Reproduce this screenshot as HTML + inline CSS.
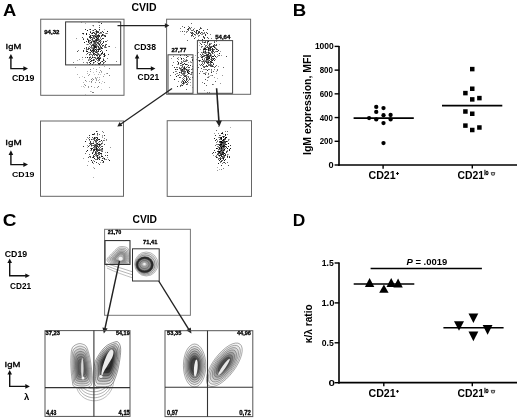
<!DOCTYPE html>
<html><head><meta charset="utf-8"><style>
html,body{margin:0;padding:0;background:#fff;width:520px;height:420px;overflow:hidden}
svg{display:block;filter:grayscale(1)}
</style></head><body>
<svg width="520" height="420" viewBox="0 0 520 420"><defs><filter id="bl" x="-10%" y="-10%" width="120%" height="120%"><feGaussianBlur stdDeviation="0.6"/></filter></defs><text x="3.00" y="16.00" font-family="Liberation Sans, sans-serif" font-weight="bold" font-size="16.32" textLength="13.29" lengthAdjust="spacingAndGlyphs" fill="#000" >A</text>
<text x="131.50" y="10.80" font-family="Liberation Sans, sans-serif" font-weight="bold" font-size="10.09" textLength="25.06" lengthAdjust="spacingAndGlyphs" fill="#000" >CVID</text>
<path d="M99,22h1.0v1.0h-1.0zM95,31h1.0v1.0h-1.0zM82,33h1.0v1.0h-1.0zM101,33h1.0v1.0h-1.0zM105,33h1.0v1.0h-1.0zM107,33h1.0v1.0h-1.0zM92,37h1.0v1.0h-1.0zM94,37h1.0v1.0h-1.0zM95,37h1.0v1.0h-1.0zM97,37h1.0v1.0h-1.0zM100,37h1.0v1.0h-1.0zM88,39h1.0v1.0h-1.0zM91,39h1.0v1.0h-1.0zM99,40h1.0v1.0h-1.0zM89,41h1.0v1.0h-1.0zM92,41h1.0v1.0h-1.0zM98,41h1.0v1.0h-1.0zM100,41h1.0v1.0h-1.0zM93,42h1.0v1.0h-1.0zM91,43h1.0v1.0h-1.0zM93,43h1.0v1.0h-1.0zM99,43h1.0v1.0h-1.0zM97,45h1.0v1.0h-1.0zM97,46h1.0v1.0h-1.0zM88,47h1.0v1.0h-1.0zM92,47h1.0v1.0h-1.0zM93,47h1.0v1.0h-1.0zM99,47h1.0v1.0h-1.0zM91,48h1.0v1.0h-1.0zM98,48h1.0v1.0h-1.0zM93,52h1.0v1.0h-1.0zM99,54h1.0v1.0h-1.0zM100,54h1.0v1.0h-1.0zM89,55h1.0v1.0h-1.0zM90,56h1.0v1.0h-1.0zM92,56h1.0v1.0h-1.0zM97,56h1.0v1.0h-1.0zM93,57h1.0v1.0h-1.0zM99,57h1.0v1.0h-1.0zM96,58h1.0v1.0h-1.0zM103,58h1.0v1.0h-1.0zM79,59h1.0v1.0h-1.0zM96,59h1.0v1.0h-1.0zM94,60h1.0v1.0h-1.0zM104,60h1.0v1.0h-1.0zM98,61h1.0v1.0h-1.0zM86,62h1.0v1.0h-1.0zM94,62h1.0v1.0h-1.0zM97,62h1.0v1.0h-1.0zM87,63h1.0v1.0h-1.0zM98,64h1.0v1.0h-1.0z" fill="#000" fill-opacity="0.4"/>
<path d="M101,23h1.0v1.0h-1.0zM99,27h1.0v1.0h-1.0zM97,32h1.0v1.0h-1.0zM100,32h1.0v1.0h-1.0zM96,33h1.0v1.0h-1.0zM94,35h1.0v1.0h-1.0zM101,35h1.0v1.0h-1.0zM102,35h1.0v1.0h-1.0zM96,36h1.0v1.0h-1.0zM98,36h1.0v1.0h-1.0zM82,37h1.0v1.0h-1.0zM90,38h1.0v1.0h-1.0zM94,38h1.0v1.0h-1.0zM103,38h1.0v1.0h-1.0zM83,39h1.0v1.0h-1.0zM97,39h1.0v1.0h-1.0zM90,40h1.0v1.0h-1.0zM91,41h1.0v1.0h-1.0zM96,41h1.0v1.0h-1.0zM105,41h1.0v1.0h-1.0zM90,42h1.0v1.0h-1.0zM94,42h1.0v1.0h-1.0zM95,42h1.0v1.0h-1.0zM89,43h1.0v1.0h-1.0zM94,43h1.0v1.0h-1.0zM95,43h1.0v1.0h-1.0zM96,44h1.0v1.0h-1.0zM106,44h1.0v1.0h-1.0zM91,45h1.0v1.0h-1.0zM92,45h1.0v1.0h-1.0zM95,45h1.0v1.0h-1.0zM99,45h1.0v1.0h-1.0zM102,45h1.0v1.0h-1.0zM91,46h1.0v1.0h-1.0zM96,46h1.0v1.0h-1.0zM109,46h1.0v1.0h-1.0zM98,47h1.0v1.0h-1.0zM105,47h1.0v1.0h-1.0zM84,48h1.0v1.0h-1.0zM86,48h1.0v1.0h-1.0zM88,48h1.0v1.0h-1.0zM94,48h1.0v1.0h-1.0zM88,49h1.0v1.0h-1.0zM90,49h1.0v1.0h-1.0zM97,49h1.0v1.0h-1.0zM98,50h1.0v1.0h-1.0zM77,51h1.0v1.0h-1.0zM95,52h1.0v1.0h-1.0zM104,53h1.0v1.0h-1.0zM103,54h1.0v1.0h-1.0zM108,54h1.0v1.0h-1.0zM92,55h1.0v1.0h-1.0zM100,55h1.0v1.0h-1.0zM90,57h1.0v1.0h-1.0zM91,58h1.0v1.0h-1.0zM98,58h1.0v1.0h-1.0zM93,59h1.0v1.0h-1.0zM103,63h1.0v1.0h-1.0zM92,64h1.0v1.0h-1.0zM102,64h1.0v1.0h-1.0z" fill="#000" fill-opacity="0.7"/>
<path d="M93,25h1.0v1.0h-1.0zM99,25h1.0v1.0h-1.0zM90,31h1.0v1.0h-1.0zM101,32h1.0v1.0h-1.0zM91,33h1.0v1.0h-1.0zM99,33h1.0v1.0h-1.0zM106,33h1.0v1.0h-1.0zM89,34h1.0v1.0h-1.0zM96,34h1.0v1.0h-1.0zM98,34h1.0v1.0h-1.0zM93,35h1.0v1.0h-1.0zM105,35h1.0v1.0h-1.0zM89,36h1.0v1.0h-1.0zM101,36h1.0v1.0h-1.0zM93,37h1.0v1.0h-1.0zM92,38h1.0v1.0h-1.0zM98,38h1.0v1.0h-1.0zM95,39h1.0v1.0h-1.0zM101,39h1.0v1.0h-1.0zM89,40h1.0v1.0h-1.0zM92,40h1.0v1.0h-1.0zM95,41h1.0v1.0h-1.0zM106,41h1.0v1.0h-1.0zM98,42h1.0v1.0h-1.0zM97,43h1.0v1.0h-1.0zM87,44h1.0v1.0h-1.0zM92,44h1.0v1.0h-1.0zM95,44h1.0v1.0h-1.0zM93,46h1.0v1.0h-1.0zM102,46h1.0v1.0h-1.0zM90,47h1.0v1.0h-1.0zM100,47h1.0v1.0h-1.0zM86,49h1.0v1.0h-1.0zM87,49h1.0v1.0h-1.0zM94,51h1.0v1.0h-1.0zM95,51h1.0v1.0h-1.0zM96,51h1.0v1.0h-1.0zM97,51h1.0v1.0h-1.0zM92,52h1.0v1.0h-1.0zM97,53h1.0v1.0h-1.0zM91,54h1.0v1.0h-1.0zM101,54h1.0v1.0h-1.0zM94,55h1.0v1.0h-1.0zM85,57h1.0v1.0h-1.0zM95,57h1.0v1.0h-1.0zM97,57h1.0v1.0h-1.0zM100,57h1.0v1.0h-1.0zM95,58h1.0v1.0h-1.0zM88,60h1.0v1.0h-1.0zM92,60h1.0v1.0h-1.0zM98,60h1.0v1.0h-1.0zM103,62h1.0v1.0h-1.0z" fill="#000" fill-opacity="0.6"/>
<path d="M85,29h1.0v1.0h-1.0zM99,29h1.0v1.0h-1.0zM93,30h1.0v1.0h-1.0zM96,31h1.0v1.0h-1.0zM97,31h1.0v1.0h-1.0zM102,31h1.0v1.0h-1.0zM96,32h1.0v1.0h-1.0zM98,32h1.0v1.0h-1.0zM103,32h1.0v1.0h-1.0zM94,33h1.0v1.0h-1.0zM95,34h1.0v1.0h-1.0zM90,35h1.0v1.0h-1.0zM92,35h1.0v1.0h-1.0zM97,35h1.0v1.0h-1.0zM99,35h1.0v1.0h-1.0zM104,35h1.0v1.0h-1.0zM93,36h1.0v1.0h-1.0zM97,36h1.0v1.0h-1.0zM89,37h1.0v1.0h-1.0zM90,37h1.0v1.0h-1.0zM98,37h1.0v1.0h-1.0zM102,38h1.0v1.0h-1.0zM92,39h1.0v1.0h-1.0zM98,39h1.0v1.0h-1.0zM95,40h1.0v1.0h-1.0zM97,40h1.0v1.0h-1.0zM100,40h1.0v1.0h-1.0zM86,41h1.0v1.0h-1.0zM103,41h1.0v1.0h-1.0zM88,42h1.0v1.0h-1.0zM97,42h1.0v1.0h-1.0zM100,42h1.0v1.0h-1.0zM103,42h1.0v1.0h-1.0zM98,43h1.0v1.0h-1.0zM102,43h1.0v1.0h-1.0zM93,44h1.0v1.0h-1.0zM101,44h1.0v1.0h-1.0zM93,45h1.0v1.0h-1.0zM94,45h1.0v1.0h-1.0zM103,45h1.0v1.0h-1.0zM105,45h1.0v1.0h-1.0zM98,46h1.0v1.0h-1.0zM100,46h1.0v1.0h-1.0zM86,47h1.0v1.0h-1.0zM96,47h1.0v1.0h-1.0zM89,48h1.0v1.0h-1.0zM93,48h1.0v1.0h-1.0zM99,48h1.0v1.0h-1.0zM101,48h1.0v1.0h-1.0zM102,48h1.0v1.0h-1.0zM83,50h1.0v1.0h-1.0zM93,50h1.0v1.0h-1.0zM94,50h1.0v1.0h-1.0zM106,50h1.0v1.0h-1.0zM83,51h1.0v1.0h-1.0zM90,52h1.0v1.0h-1.0zM87,53h1.0v1.0h-1.0zM93,53h1.0v1.0h-1.0zM94,53h1.0v1.0h-1.0zM102,53h1.0v1.0h-1.0zM89,54h1.0v1.0h-1.0zM93,54h1.0v1.0h-1.0zM96,55h1.0v1.0h-1.0zM97,55h1.0v1.0h-1.0zM99,55h1.0v1.0h-1.0zM104,55h1.0v1.0h-1.0zM89,57h1.0v1.0h-1.0zM94,57h1.0v1.0h-1.0zM100,58h1.0v1.0h-1.0zM98,59h1.0v1.0h-1.0zM99,59h1.0v1.0h-1.0zM103,59h1.0v1.0h-1.0zM99,60h1.0v1.0h-1.0zM103,60h1.0v1.0h-1.0zM105,61h1.0v1.0h-1.0zM89,62h1.0v1.0h-1.0zM93,62h1.0v1.0h-1.0zM99,63h1.0v1.0h-1.0zM99,64h1.0v1.0h-1.0z" fill="#000" fill-opacity="0.8"/>
<path d="M90,29h1.0v1.0h-1.0zM87,30h1.0v1.0h-1.0zM107,31h1.0v1.0h-1.0zM90,32h1.0v1.0h-1.0zM93,32h1.0v1.0h-1.0zM83,33h1.0v1.0h-1.0zM86,33h1.0v1.0h-1.0zM92,33h1.0v1.0h-1.0zM86,34h1.0v1.0h-1.0zM102,34h1.0v1.0h-1.0zM98,35h1.0v1.0h-1.0zM90,36h1.0v1.0h-1.0zM95,36h1.0v1.0h-1.0zM99,36h1.0v1.0h-1.0zM105,36h1.0v1.0h-1.0zM91,37h1.0v1.0h-1.0zM96,37h1.0v1.0h-1.0zM97,38h1.0v1.0h-1.0zM87,39h1.0v1.0h-1.0zM96,39h1.0v1.0h-1.0zM88,40h1.0v1.0h-1.0zM96,40h1.0v1.0h-1.0zM88,41h1.0v1.0h-1.0zM93,41h1.0v1.0h-1.0zM94,41h1.0v1.0h-1.0zM99,41h1.0v1.0h-1.0zM84,42h1.0v1.0h-1.0zM91,42h1.0v1.0h-1.0zM99,44h1.0v1.0h-1.0zM94,46h1.0v1.0h-1.0zM95,46h1.0v1.0h-1.0zM94,47h1.0v1.0h-1.0zM95,47h1.0v1.0h-1.0zM101,47h1.0v1.0h-1.0zM93,49h1.0v1.0h-1.0zM95,49h1.0v1.0h-1.0zM98,49h1.0v1.0h-1.0zM99,49h1.0v1.0h-1.0zM90,50h1.0v1.0h-1.0zM92,50h1.0v1.0h-1.0zM96,50h1.0v1.0h-1.0zM86,51h1.0v1.0h-1.0zM87,51h1.0v1.0h-1.0zM91,51h1.0v1.0h-1.0zM93,51h1.0v1.0h-1.0zM98,51h1.0v1.0h-1.0zM100,51h1.0v1.0h-1.0zM96,52h1.0v1.0h-1.0zM102,52h1.0v1.0h-1.0zM101,53h1.0v1.0h-1.0zM95,54h1.0v1.0h-1.0zM104,54h1.0v1.0h-1.0zM99,56h1.0v1.0h-1.0zM104,56h1.0v1.0h-1.0zM87,57h1.0v1.0h-1.0zM92,57h1.0v1.0h-1.0zM98,57h1.0v1.0h-1.0zM97,58h1.0v1.0h-1.0zM99,58h1.0v1.0h-1.0zM91,60h1.0v1.0h-1.0zM93,60h1.0v1.0h-1.0zM90,61h1.0v1.0h-1.0zM95,61h1.0v1.0h-1.0zM102,61h1.0v1.0h-1.0zM100,62h1.0v1.0h-1.0zM90,63h1.0v1.0h-1.0zM98,63h1.0v1.0h-1.0z" fill="#000" fill-opacity="0.9"/>
<path d="M94,29h1.0v1.0h-1.0zM95,29h1.0v1.0h-1.0zM96,30h1.0v1.0h-1.0zM98,31h1.0v1.0h-1.0zM92,32h1.0v1.0h-1.0zM95,33h1.0v1.0h-1.0zM103,34h1.0v1.0h-1.0zM95,35h1.0v1.0h-1.0zM96,35h1.0v1.0h-1.0zM103,35h1.0v1.0h-1.0zM94,36h1.0v1.0h-1.0zM104,36h1.0v1.0h-1.0zM83,38h1.0v1.0h-1.0zM87,38h1.0v1.0h-1.0zM93,38h1.0v1.0h-1.0zM96,38h1.0v1.0h-1.0zM100,38h1.0v1.0h-1.0zM99,39h1.0v1.0h-1.0zM93,40h1.0v1.0h-1.0zM94,40h1.0v1.0h-1.0zM98,40h1.0v1.0h-1.0zM96,42h1.0v1.0h-1.0zM100,43h1.0v1.0h-1.0zM90,44h1.0v1.0h-1.0zM94,44h1.0v1.0h-1.0zM98,44h1.0v1.0h-1.0zM105,44h1.0v1.0h-1.0zM96,45h1.0v1.0h-1.0zM89,46h1.0v1.0h-1.0zM104,46h1.0v1.0h-1.0zM105,46h1.0v1.0h-1.0zM108,46h1.0v1.0h-1.0zM91,47h1.0v1.0h-1.0zM104,47h1.0v1.0h-1.0zM106,47h1.0v1.0h-1.0zM96,48h1.0v1.0h-1.0zM100,48h1.0v1.0h-1.0zM94,49h1.0v1.0h-1.0zM96,49h1.0v1.0h-1.0zM100,49h1.0v1.0h-1.0zM86,50h1.0v1.0h-1.0zM91,50h1.0v1.0h-1.0zM101,50h1.0v1.0h-1.0zM102,51h1.0v1.0h-1.0zM88,52h1.0v1.0h-1.0zM89,52h1.0v1.0h-1.0zM97,52h1.0v1.0h-1.0zM98,53h1.0v1.0h-1.0zM86,54h1.0v1.0h-1.0zM90,54h1.0v1.0h-1.0zM94,54h1.0v1.0h-1.0zM96,54h1.0v1.0h-1.0zM97,54h1.0v1.0h-1.0zM98,54h1.0v1.0h-1.0zM105,55h1.0v1.0h-1.0zM89,58h1.0v1.0h-1.0zM90,59h1.0v1.0h-1.0zM94,59h1.0v1.0h-1.0zM97,60h1.0v1.0h-1.0zM91,61h1.0v1.0h-1.0zM116,61h1.0v1.0h-1.0zM73,62h1.0v1.0h-1.0zM87,62h1.0v1.0h-1.0zM104,62h1.0v1.0h-1.0zM93,63h1.0v1.0h-1.0zM100,63h1.0v1.0h-1.0z" fill="#000" fill-opacity="0.5"/>
<path d="M81,22h1.0v1.0h-1.0zM85,23h1.0v1.0h-1.0zM92,25h1.0v1.0h-1.0zM104,29h1.0v1.0h-1.0zM99,30h1.0v1.0h-1.0zM96,31h1.0v1.0h-1.0zM83,34h1.0v1.0h-1.0zM91,35h1.0v1.0h-1.0zM92,35h1.0v1.0h-1.0zM101,36h1.0v1.0h-1.0zM83,39h1.0v1.0h-1.0zM101,41h1.0v1.0h-1.0zM90,43h1.0v1.0h-1.0zM86,44h1.0v1.0h-1.0zM99,44h1.0v1.0h-1.0zM93,47h1.0v1.0h-1.0zM98,47h1.0v1.0h-1.0zM115,47h1.0v1.0h-1.0zM88,48h1.0v1.0h-1.0zM93,53h1.0v1.0h-1.0zM87,57h1.0v1.0h-1.0zM91,58h1.0v1.0h-1.0zM77,60h1.0v1.0h-1.0zM90,61h1.0v1.0h-1.0z" fill="#000" fill-opacity="0.3"/>
<path d="M98,22h1.0v1.0h-1.0zM101,23h1.0v1.0h-1.0zM92,30h1.0v1.0h-1.0zM96,30h1.0v1.0h-1.0zM94,32h1.0v1.0h-1.0zM100,33h1.0v1.0h-1.0zM102,35h1.0v1.0h-1.0zM89,36h1.0v1.0h-1.0zM76,38h1.0v1.0h-1.0zM94,38h1.0v1.0h-1.0zM107,40h1.0v1.0h-1.0zM91,42h1.0v1.0h-1.0zM88,44h1.0v1.0h-1.0zM93,45h1.0v1.0h-1.0zM92,49h1.0v1.0h-1.0zM95,49h1.0v1.0h-1.0zM92,51h1.0v1.0h-1.0zM93,52h1.0v1.0h-1.0zM90,53h1.0v1.0h-1.0zM103,56h1.0v1.0h-1.0zM88,59h1.0v1.0h-1.0zM89,59h1.0v1.0h-1.0zM90,59h1.0v1.0h-1.0zM96,59h1.0v1.0h-1.0zM95,64h1.0v1.0h-1.0z" fill="#000" fill-opacity="0.4"/>
<path d="M93,26h1.0v1.0h-1.0zM98,31h1.0v1.0h-1.0zM96,37h1.0v1.0h-1.0zM101,39h1.0v1.0h-1.0zM94,41h1.0v1.0h-1.0zM89,42h1.0v1.0h-1.0zM96,43h1.0v1.0h-1.0zM96,44h1.0v1.0h-1.0zM94,46h1.0v1.0h-1.0zM92,54h1.0v1.0h-1.0zM97,58h1.0v1.0h-1.0zM82,59h1.0v1.0h-1.0zM89,60h1.0v1.0h-1.0z" fill="#000" fill-opacity="0.2"/>
<path d="M89,29h1.0v1.0h-1.0zM95,29h1.0v1.0h-1.0zM82,33h1.0v1.0h-1.0zM86,34h1.0v1.0h-1.0zM100,45h1.0v1.0h-1.0zM92,48h1.0v1.0h-1.0zM78,50h1.0v1.0h-1.0zM101,50h1.0v1.0h-1.0zM104,53h1.0v1.0h-1.0zM98,54h1.0v1.0h-1.0zM82,57h1.0v1.0h-1.0zM107,58h1.0v1.0h-1.0zM101,61h1.0v1.0h-1.0zM83,62h1.0v1.0h-1.0zM89,64h1.0v1.0h-1.0z" fill="#000" fill-opacity="0.5"/>
<path d="M104,66h1.0v1.0h-1.0zM99,67h1.0v1.0h-1.0zM93,68h1.0v1.0h-1.0zM87,71h1.0v1.0h-1.0zM96,71h1.0v1.0h-1.0zM101,72h1.0v1.0h-1.0zM87,73h1.0v1.0h-1.0zM106,73h1.0v1.0h-1.0zM77,74h1.0v1.0h-1.0zM98,74h1.0v1.0h-1.0zM104,74h1.0v1.0h-1.0zM79,77h1.0v1.0h-1.0zM97,77h1.0v1.0h-1.0zM99,77h1.0v1.0h-1.0zM95,78h1.0v1.0h-1.0zM96,78h1.0v1.0h-1.0zM99,79h1.0v1.0h-1.0zM92,80h1.0v1.0h-1.0zM98,80h1.0v1.0h-1.0zM86,81h1.0v1.0h-1.0zM89,81h1.0v1.0h-1.0zM83,82h1.0v1.0h-1.0zM83,86h1.0v1.0h-1.0zM94,87h1.0v1.0h-1.0zM109,87h1.0v1.0h-1.0zM90,91h1.0v1.0h-1.0z" fill="#000" fill-opacity="0.3"/>
<path d="M75,67h1.0v1.0h-1.0zM96,69h1.0v1.0h-1.0zM100,70h1.0v1.0h-1.0zM90,71h1.0v1.0h-1.0zM101,71h1.0v1.0h-1.0zM99,72h1.0v1.0h-1.0zM89,74h1.0v1.0h-1.0zM88,75h1.0v1.0h-1.0zM103,76h1.0v1.0h-1.0zM84,77h1.0v1.0h-1.0zM95,77h1.0v1.0h-1.0zM92,78h1.0v1.0h-1.0zM96,79h1.0v1.0h-1.0zM96,80h1.0v1.0h-1.0zM91,82h1.0v1.0h-1.0zM95,82h1.0v1.0h-1.0zM104,82h1.0v1.0h-1.0zM84,84h1.0v1.0h-1.0zM88,86h1.0v1.0h-1.0zM88,87h1.0v1.0h-1.0zM97,87h1.0v1.0h-1.0z" fill="#000" fill-opacity="0.4"/>
<path d="M109,68h1.0v1.0h-1.0zM90,69h1.0v1.0h-1.0zM107,73h1.0v1.0h-1.0zM109,75h1.0v1.0h-1.0zM91,79h1.0v1.0h-1.0zM93,79h1.0v1.0h-1.0zM85,80h1.0v1.0h-1.0zM91,81h1.0v1.0h-1.0zM99,82h1.0v1.0h-1.0zM85,85h1.0v1.0h-1.0zM91,86h1.0v1.0h-1.0zM98,86h1.0v1.0h-1.0zM92,92h1.0v1.0h-1.0zM93,92h1.0v1.0h-1.0z" fill="#000" fill-opacity="0.5"/>
<path d="M93,72h1.0v1.0h-1.0zM94,74h1.0v1.0h-1.0zM100,74h1.0v1.0h-1.0zM82,76h1.0v1.0h-1.0zM102,81h1.0v1.0h-1.0zM101,83h1.0v1.0h-1.0zM81,86h1.0v1.0h-1.0zM84,87h1.0v1.0h-1.0zM101,89h1.0v1.0h-1.0zM91,91h1.0v1.0h-1.0zM85,94h1.0v1.0h-1.0z" fill="#000" fill-opacity="0.2"/>
<rect x="40.7" y="19.2" width="83.3" height="76.1" stroke="#666" stroke-width="1.0" fill="none"/>
<rect x="65.6" y="21.9" width="55.1" height="43.0" stroke="#333" stroke-width="1.0" fill="none"/>
<text x="44.20" y="34.00" font-family="Liberation Sans, sans-serif" font-weight="bold" font-size="5.81" textLength="15.23" lengthAdjust="spacingAndGlyphs" fill="#000"  stroke="#000" stroke-width="0.3">94,32</text>
<text x="5.60" y="49.15" font-family="Liberation Sans, sans-serif" font-weight="normal" font-size="7.05" textLength="15.65" lengthAdjust="spacingAndGlyphs" fill="#000"  stroke="#000" stroke-width="0.3">IgM</text>
<path d="M10.9,58.0 L10.9,68.6 L24.0,68.6" stroke="#111" stroke-width="1.4" fill="none"/>
<polygon points="10.9,54.0 8.600000000000001,58.6 13.2,58.6" fill="#111"/>
<polygon points="28.0,68.6 23.4,66.3 23.4,70.89999999999999" fill="#111"/>
<text x="12.00" y="80.55" font-family="Liberation Sans, sans-serif" font-weight="bold" font-size="8.16" textLength="22.42" lengthAdjust="spacingAndGlyphs" fill="#000" >CD19</text>
<path d="M191,23h1.0v1.0h-1.0zM182,26h1.0v1.0h-1.0zM200,27h1.0v1.0h-1.0zM190,28h1.0v1.0h-1.0zM201,28h1.0v1.0h-1.0zM188,30h1.0v1.0h-1.0zM191,30h1.0v1.0h-1.0zM192,30h1.0v1.0h-1.0zM184,31h1.0v1.0h-1.0zM198,31h1.0v1.0h-1.0zM190,32h1.0v1.0h-1.0zM204,32h1.0v1.0h-1.0zM192,33h1.0v1.0h-1.0zM193,33h1.0v1.0h-1.0zM199,35h1.0v1.0h-1.0zM193,36h1.0v1.0h-1.0zM203,37h1.0v1.0h-1.0zM208,38h1.0v1.0h-1.0z" fill="#000" fill-opacity="0.6"/>
<path d="M188,26h1.0v1.0h-1.0zM191,27h1.0v1.0h-1.0zM180,28h1.0v1.0h-1.0zM189,28h1.0v1.0h-1.0zM187,31h1.0v1.0h-1.0zM186,32h1.0v1.0h-1.0zM191,32h1.0v1.0h-1.0zM195,32h1.0v1.0h-1.0zM203,33h1.0v1.0h-1.0zM204,33h1.0v1.0h-1.0zM195,34h1.0v1.0h-1.0zM202,34h1.0v1.0h-1.0zM210,34h1.0v1.0h-1.0zM198,36h1.0v1.0h-1.0zM195,37h1.0v1.0h-1.0zM211,38h1.0v1.0h-1.0zM202,41h1.0v1.0h-1.0z" fill="#000" fill-opacity="0.5"/>
<path d="M184,27h1.0v1.0h-1.0zM189,27h1.0v1.0h-1.0zM188,28h1.0v1.0h-1.0zM200,28h1.0v1.0h-1.0zM187,29h1.0v1.0h-1.0zM196,30h1.0v1.0h-1.0zM197,30h1.0v1.0h-1.0zM203,30h1.0v1.0h-1.0zM194,31h1.0v1.0h-1.0zM196,31h1.0v1.0h-1.0zM192,32h1.0v1.0h-1.0zM198,32h1.0v1.0h-1.0zM199,32h1.0v1.0h-1.0zM191,33h1.0v1.0h-1.0zM196,33h1.0v1.0h-1.0zM198,33h1.0v1.0h-1.0zM200,33h1.0v1.0h-1.0zM207,33h1.0v1.0h-1.0zM194,34h1.0v1.0h-1.0zM205,34h1.0v1.0h-1.0zM191,35h1.0v1.0h-1.0zM205,35h1.0v1.0h-1.0zM203,36h1.0v1.0h-1.0zM194,38h1.0v1.0h-1.0zM204,38h1.0v1.0h-1.0zM202,39h1.0v1.0h-1.0z" fill="#000" fill-opacity="0.8"/>
<path d="M194,28h1.0v1.0h-1.0zM190,29h1.0v1.0h-1.0zM193,30h1.0v1.0h-1.0zM180,31h1.0v1.0h-1.0zM186,31h1.0v1.0h-1.0zM202,32h1.0v1.0h-1.0zM197,33h1.0v1.0h-1.0zM202,33h1.0v1.0h-1.0zM184,34h1.0v1.0h-1.0zM197,34h1.0v1.0h-1.0zM201,34h1.0v1.0h-1.0zM195,35h1.0v1.0h-1.0zM198,35h1.0v1.0h-1.0zM191,36h1.0v1.0h-1.0zM198,39h1.0v1.0h-1.0zM216,39h1.0v1.0h-1.0z" fill="#000" fill-opacity="0.4"/>
<path d="M188,29h1.0v1.0h-1.0zM193,29h1.0v1.0h-1.0zM199,29h1.0v1.0h-1.0zM207,29h1.0v1.0h-1.0zM182,31h1.0v1.0h-1.0zM199,31h1.0v1.0h-1.0zM196,32h1.0v1.0h-1.0zM201,32h1.0v1.0h-1.0zM206,32h1.0v1.0h-1.0zM192,34h1.0v1.0h-1.0zM192,35h1.0v1.0h-1.0zM204,37h1.0v1.0h-1.0zM207,37h1.0v1.0h-1.0z" fill="#000" fill-opacity="0.7"/>
<path d="M205,41h1.0v1.0h-1.0zM214,41h1.0v1.0h-1.0zM202,42h1.0v1.0h-1.0zM207,43h1.0v1.0h-1.0zM204,44h1.0v1.0h-1.0zM206,45h1.0v1.0h-1.0zM209,45h1.0v1.0h-1.0zM215,45h1.0v1.0h-1.0zM202,46h1.0v1.0h-1.0zM212,46h1.0v1.0h-1.0zM214,46h1.0v1.0h-1.0zM206,47h1.0v1.0h-1.0zM215,48h1.0v1.0h-1.0zM210,49h1.0v1.0h-1.0zM212,49h1.0v1.0h-1.0zM214,49h1.0v1.0h-1.0zM217,49h1.0v1.0h-1.0zM209,50h1.0v1.0h-1.0zM211,51h1.0v1.0h-1.0zM216,51h1.0v1.0h-1.0zM201,52h1.0v1.0h-1.0zM209,52h1.0v1.0h-1.0zM208,53h1.0v1.0h-1.0zM212,53h1.0v1.0h-1.0zM200,54h1.0v1.0h-1.0zM208,55h1.0v1.0h-1.0zM209,55h1.0v1.0h-1.0zM209,56h1.0v1.0h-1.0zM202,57h1.0v1.0h-1.0zM207,57h1.0v1.0h-1.0zM213,58h1.0v1.0h-1.0zM203,60h1.0v1.0h-1.0zM206,60h1.0v1.0h-1.0zM199,61h1.0v1.0h-1.0zM202,61h1.0v1.0h-1.0zM210,62h1.0v1.0h-1.0zM202,63h1.0v1.0h-1.0zM210,64h1.0v1.0h-1.0zM200,65h1.0v1.0h-1.0zM208,65h1.0v1.0h-1.0zM206,66h1.0v1.0h-1.0zM204,67h1.0v1.0h-1.0zM217,69h1.0v1.0h-1.0zM199,73h1.0v1.0h-1.0zM204,73h1.0v1.0h-1.0zM208,73h1.0v1.0h-1.0z" fill="#000" fill-opacity="0.6"/>
<path d="M208,41h1.0v1.0h-1.0zM209,44h1.0v1.0h-1.0zM213,46h1.0v1.0h-1.0zM210,47h1.0v1.0h-1.0zM204,48h1.0v1.0h-1.0zM205,48h1.0v1.0h-1.0zM208,48h1.0v1.0h-1.0zM212,48h1.0v1.0h-1.0zM203,49h1.0v1.0h-1.0zM204,49h1.0v1.0h-1.0zM208,49h1.0v1.0h-1.0zM208,50h1.0v1.0h-1.0zM212,50h1.0v1.0h-1.0zM218,50h1.0v1.0h-1.0zM205,51h1.0v1.0h-1.0zM203,52h1.0v1.0h-1.0zM197,53h1.0v1.0h-1.0zM219,53h1.0v1.0h-1.0zM208,54h1.0v1.0h-1.0zM210,55h1.0v1.0h-1.0zM208,56h1.0v1.0h-1.0zM212,56h1.0v1.0h-1.0zM213,56h1.0v1.0h-1.0zM215,56h1.0v1.0h-1.0zM209,57h1.0v1.0h-1.0zM211,57h1.0v1.0h-1.0zM208,58h1.0v1.0h-1.0zM202,59h1.0v1.0h-1.0zM206,59h1.0v1.0h-1.0zM207,59h1.0v1.0h-1.0zM213,59h1.0v1.0h-1.0zM199,60h1.0v1.0h-1.0zM212,60h1.0v1.0h-1.0zM210,61h1.0v1.0h-1.0zM208,62h1.0v1.0h-1.0zM211,62h1.0v1.0h-1.0zM197,65h1.0v1.0h-1.0zM207,66h1.0v1.0h-1.0z" fill="#000" fill-opacity="0.9"/>
<path d="M204,42h1.0v1.0h-1.0zM207,42h1.0v1.0h-1.0zM201,44h1.0v1.0h-1.0zM214,44h1.0v1.0h-1.0zM213,45h1.0v1.0h-1.0zM214,47h1.0v1.0h-1.0zM209,48h1.0v1.0h-1.0zM205,49h1.0v1.0h-1.0zM216,49h1.0v1.0h-1.0zM210,50h1.0v1.0h-1.0zM213,51h1.0v1.0h-1.0zM217,51h1.0v1.0h-1.0zM208,52h1.0v1.0h-1.0zM204,55h1.0v1.0h-1.0zM206,55h1.0v1.0h-1.0zM207,55h1.0v1.0h-1.0zM214,55h1.0v1.0h-1.0zM202,56h1.0v1.0h-1.0zM203,56h1.0v1.0h-1.0zM207,56h1.0v1.0h-1.0zM201,57h1.0v1.0h-1.0zM206,57h1.0v1.0h-1.0zM209,58h1.0v1.0h-1.0zM214,58h1.0v1.0h-1.0zM211,59h1.0v1.0h-1.0zM209,60h1.0v1.0h-1.0zM214,60h1.0v1.0h-1.0zM206,62h1.0v1.0h-1.0zM201,64h1.0v1.0h-1.0zM213,64h1.0v1.0h-1.0zM210,65h1.0v1.0h-1.0zM212,66h1.0v1.0h-1.0zM197,69h1.0v1.0h-1.0zM207,70h1.0v1.0h-1.0zM211,72h1.0v1.0h-1.0z" fill="#000" fill-opacity="0.8"/>
<path d="M205,42h1.0v1.0h-1.0zM200,43h1.0v1.0h-1.0zM216,44h1.0v1.0h-1.0zM216,45h1.0v1.0h-1.0zM205,46h1.0v1.0h-1.0zM207,46h1.0v1.0h-1.0zM209,46h1.0v1.0h-1.0zM211,46h1.0v1.0h-1.0zM207,47h1.0v1.0h-1.0zM208,47h1.0v1.0h-1.0zM210,48h1.0v1.0h-1.0zM206,49h1.0v1.0h-1.0zM213,49h1.0v1.0h-1.0zM203,51h1.0v1.0h-1.0zM205,52h1.0v1.0h-1.0zM212,52h1.0v1.0h-1.0zM214,52h1.0v1.0h-1.0zM205,53h1.0v1.0h-1.0zM210,53h1.0v1.0h-1.0zM202,54h1.0v1.0h-1.0zM206,54h1.0v1.0h-1.0zM210,54h1.0v1.0h-1.0zM208,57h1.0v1.0h-1.0zM206,58h1.0v1.0h-1.0zM207,58h1.0v1.0h-1.0zM212,58h1.0v1.0h-1.0zM203,61h1.0v1.0h-1.0zM206,61h1.0v1.0h-1.0zM208,61h1.0v1.0h-1.0zM211,61h1.0v1.0h-1.0zM212,62h1.0v1.0h-1.0zM210,63h1.0v1.0h-1.0zM203,64h1.0v1.0h-1.0zM202,65h1.0v1.0h-1.0zM203,66h1.0v1.0h-1.0zM211,66h1.0v1.0h-1.0zM215,66h1.0v1.0h-1.0zM214,67h1.0v1.0h-1.0zM201,68h1.0v1.0h-1.0zM205,79h1.0v1.0h-1.0z" fill="#000" fill-opacity="0.7"/>
<path d="M214,42h1.0v1.0h-1.0zM210,43h1.0v1.0h-1.0zM208,45h1.0v1.0h-1.0zM211,47h1.0v1.0h-1.0zM213,50h1.0v1.0h-1.0zM204,51h1.0v1.0h-1.0zM208,51h1.0v1.0h-1.0zM212,51h1.0v1.0h-1.0zM220,51h1.0v1.0h-1.0zM198,52h1.0v1.0h-1.0zM206,52h1.0v1.0h-1.0zM207,52h1.0v1.0h-1.0zM202,53h1.0v1.0h-1.0zM204,53h1.0v1.0h-1.0zM207,54h1.0v1.0h-1.0zM203,55h1.0v1.0h-1.0zM211,56h1.0v1.0h-1.0zM200,60h1.0v1.0h-1.0zM205,60h1.0v1.0h-1.0zM207,60h1.0v1.0h-1.0zM211,60h1.0v1.0h-1.0zM202,62h1.0v1.0h-1.0zM204,62h1.0v1.0h-1.0zM207,62h1.0v1.0h-1.0zM208,63h1.0v1.0h-1.0zM211,65h1.0v1.0h-1.0zM212,65h1.0v1.0h-1.0zM204,66h1.0v1.0h-1.0zM203,67h1.0v1.0h-1.0zM211,71h1.0v1.0h-1.0z" fill="#000" fill-opacity="0.4"/>
<path d="M209,43h1.0v1.0h-1.0zM210,44h1.0v1.0h-1.0zM214,45h1.0v1.0h-1.0zM201,46h1.0v1.0h-1.0zM201,47h1.0v1.0h-1.0zM209,47h1.0v1.0h-1.0zM209,49h1.0v1.0h-1.0zM211,49h1.0v1.0h-1.0zM203,50h1.0v1.0h-1.0zM205,50h1.0v1.0h-1.0zM204,52h1.0v1.0h-1.0zM209,53h1.0v1.0h-1.0zM201,55h1.0v1.0h-1.0zM205,55h1.0v1.0h-1.0zM211,55h1.0v1.0h-1.0zM218,55h1.0v1.0h-1.0zM204,56h1.0v1.0h-1.0zM206,56h1.0v1.0h-1.0zM210,56h1.0v1.0h-1.0zM205,57h1.0v1.0h-1.0zM216,57h1.0v1.0h-1.0zM204,58h1.0v1.0h-1.0zM204,59h1.0v1.0h-1.0zM201,61h1.0v1.0h-1.0zM204,61h1.0v1.0h-1.0zM205,61h1.0v1.0h-1.0zM207,61h1.0v1.0h-1.0zM207,63h1.0v1.0h-1.0zM209,64h1.0v1.0h-1.0zM206,65h1.0v1.0h-1.0zM209,65h1.0v1.0h-1.0zM210,66h1.0v1.0h-1.0zM205,69h1.0v1.0h-1.0zM200,71h1.0v1.0h-1.0zM205,74h1.0v1.0h-1.0zM208,74h1.0v1.0h-1.0zM207,80h1.0v1.0h-1.0z" fill="#000" fill-opacity="0.5"/>
<path d="M199,42h1.0v1.0h-1.0zM219,44h1.0v1.0h-1.0zM199,45h1.0v1.0h-1.0zM205,47h1.0v1.0h-1.0zM210,48h1.0v1.0h-1.0zM203,49h1.0v1.0h-1.0zM202,52h1.0v1.0h-1.0zM206,52h1.0v1.0h-1.0zM206,53h1.0v1.0h-1.0zM212,53h1.0v1.0h-1.0zM213,53h1.0v1.0h-1.0zM200,54h1.0v1.0h-1.0zM211,54h1.0v1.0h-1.0zM207,55h1.0v1.0h-1.0zM200,56h1.0v1.0h-1.0zM201,56h1.0v1.0h-1.0zM209,56h1.0v1.0h-1.0zM202,58h1.0v1.0h-1.0zM214,58h1.0v1.0h-1.0zM207,59h1.0v1.0h-1.0zM212,59h1.0v1.0h-1.0zM197,61h1.0v1.0h-1.0zM212,62h1.0v1.0h-1.0zM211,65h1.0v1.0h-1.0zM204,69h1.0v1.0h-1.0zM207,70h1.0v1.0h-1.0zM205,72h1.0v1.0h-1.0zM206,72h1.0v1.0h-1.0zM210,75h1.0v1.0h-1.0zM211,75h1.0v1.0h-1.0zM208,76h1.0v1.0h-1.0zM209,76h1.0v1.0h-1.0zM217,78h1.0v1.0h-1.0zM204,90h1.0v1.0h-1.0z" fill="#000" fill-opacity="0.3"/>
<path d="M203,42h1.0v1.0h-1.0zM207,44h1.0v1.0h-1.0zM204,47h1.0v1.0h-1.0zM215,47h1.0v1.0h-1.0zM203,48h1.0v1.0h-1.0zM216,48h1.0v1.0h-1.0zM200,49h1.0v1.0h-1.0zM207,49h1.0v1.0h-1.0zM210,49h1.0v1.0h-1.0zM212,51h1.0v1.0h-1.0zM203,54h1.0v1.0h-1.0zM214,54h1.0v1.0h-1.0zM217,54h1.0v1.0h-1.0zM221,55h1.0v1.0h-1.0zM202,57h1.0v1.0h-1.0zM210,59h1.0v1.0h-1.0zM200,60h1.0v1.0h-1.0zM204,60h1.0v1.0h-1.0zM211,60h1.0v1.0h-1.0zM205,61h1.0v1.0h-1.0zM199,64h1.0v1.0h-1.0zM212,65h1.0v1.0h-1.0zM218,66h1.0v1.0h-1.0zM203,69h1.0v1.0h-1.0zM211,70h1.0v1.0h-1.0zM216,71h1.0v1.0h-1.0zM205,73h1.0v1.0h-1.0zM216,73h1.0v1.0h-1.0zM222,75h1.0v1.0h-1.0zM197,76h1.0v1.0h-1.0zM214,77h1.0v1.0h-1.0zM220,83h1.0v1.0h-1.0zM213,84h1.0v1.0h-1.0z" fill="#000" fill-opacity="0.4"/>
<path d="M214,42h1.0v1.0h-1.0zM211,43h1.0v1.0h-1.0zM205,45h1.0v1.0h-1.0zM210,46h1.0v1.0h-1.0zM213,46h1.0v1.0h-1.0zM211,47h1.0v1.0h-1.0zM214,47h1.0v1.0h-1.0zM206,49h1.0v1.0h-1.0zM212,49h1.0v1.0h-1.0zM215,51h1.0v1.0h-1.0zM208,52h1.0v1.0h-1.0zM207,54h1.0v1.0h-1.0zM201,55h1.0v1.0h-1.0zM205,55h1.0v1.0h-1.0zM217,56h1.0v1.0h-1.0zM198,57h1.0v1.0h-1.0zM215,59h1.0v1.0h-1.0zM198,60h1.0v1.0h-1.0zM208,60h1.0v1.0h-1.0zM207,62h1.0v1.0h-1.0zM209,62h1.0v1.0h-1.0zM207,63h1.0v1.0h-1.0zM211,64h1.0v1.0h-1.0zM204,67h1.0v1.0h-1.0zM206,69h1.0v1.0h-1.0zM209,69h1.0v1.0h-1.0zM214,69h1.0v1.0h-1.0zM203,73h1.0v1.0h-1.0zM207,77h1.0v1.0h-1.0zM202,82h1.0v1.0h-1.0zM204,83h1.0v1.0h-1.0zM207,92h1.0v1.0h-1.0zM209,92h1.0v1.0h-1.0z" fill="#000" fill-opacity="0.5"/>
<path d="M211,52h1.0v1.0h-1.0zM209,53h1.0v1.0h-1.0zM219,55h1.0v1.0h-1.0zM207,57h1.0v1.0h-1.0zM209,58h1.0v1.0h-1.0zM211,58h1.0v1.0h-1.0zM208,59h1.0v1.0h-1.0zM204,62h1.0v1.0h-1.0zM211,62h1.0v1.0h-1.0zM204,63h1.0v1.0h-1.0zM213,63h1.0v1.0h-1.0zM208,64h1.0v1.0h-1.0zM206,65h1.0v1.0h-1.0zM216,65h1.0v1.0h-1.0zM205,66h1.0v1.0h-1.0zM213,66h1.0v1.0h-1.0zM223,67h1.0v1.0h-1.0zM208,69h1.0v1.0h-1.0zM211,69h1.0v1.0h-1.0zM217,70h1.0v1.0h-1.0zM202,71h1.0v1.0h-1.0zM213,71h1.0v1.0h-1.0zM212,75h1.0v1.0h-1.0zM208,77h1.0v1.0h-1.0zM215,81h1.0v1.0h-1.0zM212,84h1.0v1.0h-1.0zM206,85h1.0v1.0h-1.0z" fill="#000" fill-opacity="0.6"/>
<path d="M180,55h1.0v1.0h-1.0zM186,55h1.0v1.0h-1.0zM192,59h1.0v1.0h-1.0zM178,62h1.0v1.0h-1.0zM180,63h1.0v1.0h-1.0zM183,64h1.0v1.0h-1.0zM186,64h1.0v1.0h-1.0zM188,65h1.0v1.0h-1.0zM190,65h1.0v1.0h-1.0zM174,67h1.0v1.0h-1.0zM177,69h1.0v1.0h-1.0zM178,75h1.0v1.0h-1.0zM184,76h1.0v1.0h-1.0zM185,76h1.0v1.0h-1.0zM186,77h1.0v1.0h-1.0zM183,79h1.0v1.0h-1.0zM184,80h1.0v1.0h-1.0zM187,81h1.0v1.0h-1.0zM186,82h1.0v1.0h-1.0zM183,83h1.0v1.0h-1.0zM182,85h1.0v1.0h-1.0zM177,86h1.0v1.0h-1.0z" fill="#000" fill-opacity="0.8"/>
<path d="M184,55h1.0v1.0h-1.0zM191,57h1.0v1.0h-1.0zM178,59h1.0v1.0h-1.0zM181,61h1.0v1.0h-1.0zM183,61h1.0v1.0h-1.0zM191,62h1.0v1.0h-1.0zM187,64h1.0v1.0h-1.0zM181,65h1.0v1.0h-1.0zM182,65h1.0v1.0h-1.0zM187,66h1.0v1.0h-1.0zM192,66h1.0v1.0h-1.0zM177,67h1.0v1.0h-1.0zM181,67h1.0v1.0h-1.0zM188,67h1.0v1.0h-1.0zM192,68h1.0v1.0h-1.0zM180,69h1.0v1.0h-1.0zM183,69h1.0v1.0h-1.0zM185,69h1.0v1.0h-1.0zM189,69h1.0v1.0h-1.0zM181,70h1.0v1.0h-1.0zM183,70h1.0v1.0h-1.0zM184,70h1.0v1.0h-1.0zM175,71h1.0v1.0h-1.0zM176,71h1.0v1.0h-1.0zM183,71h1.0v1.0h-1.0zM177,73h1.0v1.0h-1.0zM182,73h1.0v1.0h-1.0zM179,74h1.0v1.0h-1.0zM182,74h1.0v1.0h-1.0zM183,74h1.0v1.0h-1.0zM184,74h1.0v1.0h-1.0zM187,74h1.0v1.0h-1.0zM181,75h1.0v1.0h-1.0zM180,77h1.0v1.0h-1.0zM182,78h1.0v1.0h-1.0zM190,79h1.0v1.0h-1.0zM188,80h1.0v1.0h-1.0zM183,81h1.0v1.0h-1.0zM187,83h1.0v1.0h-1.0zM183,84h1.0v1.0h-1.0zM181,85h1.0v1.0h-1.0z" fill="#000" fill-opacity="0.5"/>
<path d="M187,56h1.0v1.0h-1.0zM186,57h1.0v1.0h-1.0zM177,58h1.0v1.0h-1.0zM186,60h1.0v1.0h-1.0zM177,61h1.0v1.0h-1.0zM178,63h1.0v1.0h-1.0zM182,64h1.0v1.0h-1.0zM182,66h1.0v1.0h-1.0zM186,67h1.0v1.0h-1.0zM189,67h1.0v1.0h-1.0zM183,68h1.0v1.0h-1.0zM185,68h1.0v1.0h-1.0zM184,69h1.0v1.0h-1.0zM182,70h1.0v1.0h-1.0zM187,70h1.0v1.0h-1.0zM181,71h1.0v1.0h-1.0zM182,71h1.0v1.0h-1.0zM185,71h1.0v1.0h-1.0zM173,72h1.0v1.0h-1.0zM188,72h1.0v1.0h-1.0zM183,73h1.0v1.0h-1.0zM184,73h1.0v1.0h-1.0zM189,73h1.0v1.0h-1.0zM186,78h1.0v1.0h-1.0zM186,80h1.0v1.0h-1.0zM185,82h1.0v1.0h-1.0zM182,83h1.0v1.0h-1.0zM186,84h1.0v1.0h-1.0zM180,85h1.0v1.0h-1.0z" fill="#000" fill-opacity="0.7"/>
<path d="M188,56h1.0v1.0h-1.0zM184,59h1.0v1.0h-1.0zM185,60h1.0v1.0h-1.0zM186,61h1.0v1.0h-1.0zM190,61h1.0v1.0h-1.0zM188,62h1.0v1.0h-1.0zM177,64h1.0v1.0h-1.0zM182,67h1.0v1.0h-1.0zM183,67h1.0v1.0h-1.0zM181,68h1.0v1.0h-1.0zM187,69h1.0v1.0h-1.0zM188,69h1.0v1.0h-1.0zM192,69h1.0v1.0h-1.0zM180,70h1.0v1.0h-1.0zM184,71h1.0v1.0h-1.0zM188,71h1.0v1.0h-1.0zM189,71h1.0v1.0h-1.0zM180,72h1.0v1.0h-1.0zM183,72h1.0v1.0h-1.0zM183,75h1.0v1.0h-1.0zM186,75h1.0v1.0h-1.0zM186,76h1.0v1.0h-1.0zM184,78h1.0v1.0h-1.0zM187,78h1.0v1.0h-1.0zM187,79h1.0v1.0h-1.0zM190,82h1.0v1.0h-1.0zM181,84h1.0v1.0h-1.0z" fill="#000" fill-opacity="0.4"/>
<path d="M181,58h1.0v1.0h-1.0zM192,60h1.0v1.0h-1.0zM184,63h1.0v1.0h-1.0zM185,64h1.0v1.0h-1.0zM184,67h1.0v1.0h-1.0zM184,68h1.0v1.0h-1.0zM175,69h1.0v1.0h-1.0zM182,69h1.0v1.0h-1.0zM186,69h1.0v1.0h-1.0zM188,70h1.0v1.0h-1.0zM187,71h1.0v1.0h-1.0zM179,72h1.0v1.0h-1.0zM187,72h1.0v1.0h-1.0zM188,73h1.0v1.0h-1.0zM176,76h1.0v1.0h-1.0zM174,79h1.0v1.0h-1.0zM186,79h1.0v1.0h-1.0zM185,81h1.0v1.0h-1.0zM183,82h1.0v1.0h-1.0z" fill="#000" fill-opacity="0.9"/>
<path d="M183,58h1.0v1.0h-1.0zM181,59h1.0v1.0h-1.0zM187,60h1.0v1.0h-1.0zM184,61h1.0v1.0h-1.0zM185,61h1.0v1.0h-1.0zM182,62h1.0v1.0h-1.0zM181,63h1.0v1.0h-1.0zM184,66h1.0v1.0h-1.0zM179,68h1.0v1.0h-1.0zM180,68h1.0v1.0h-1.0zM181,69h1.0v1.0h-1.0zM191,69h1.0v1.0h-1.0zM181,72h1.0v1.0h-1.0zM184,72h1.0v1.0h-1.0zM192,72h1.0v1.0h-1.0zM181,73h1.0v1.0h-1.0zM175,74h1.0v1.0h-1.0zM191,74h1.0v1.0h-1.0zM170,75h1.0v1.0h-1.0zM184,75h1.0v1.0h-1.0zM185,75h1.0v1.0h-1.0zM188,76h1.0v1.0h-1.0zM179,77h1.0v1.0h-1.0zM188,77h1.0v1.0h-1.0zM189,79h1.0v1.0h-1.0zM182,80h1.0v1.0h-1.0zM181,82h1.0v1.0h-1.0zM187,84h1.0v1.0h-1.0zM180,86h1.0v1.0h-1.0zM186,89h1.0v1.0h-1.0z" fill="#000" fill-opacity="0.6"/>
<path d="M178,57h1.0v1.0h-1.0zM171,58h1.0v1.0h-1.0zM181,62h1.0v1.0h-1.0zM188,67h1.0v1.0h-1.0zM182,69h1.0v1.0h-1.0zM184,71h1.0v1.0h-1.0zM187,71h1.0v1.0h-1.0zM185,72h1.0v1.0h-1.0zM191,73h1.0v1.0h-1.0zM186,75h1.0v1.0h-1.0zM179,77h1.0v1.0h-1.0zM184,82h1.0v1.0h-1.0zM188,82h1.0v1.0h-1.0z" fill="#000" fill-opacity="0.4"/>
<path d="M180,57h1.0v1.0h-1.0zM181,61h1.0v1.0h-1.0zM190,62h1.0v1.0h-1.0zM180,68h1.0v1.0h-1.0zM176,69h1.0v1.0h-1.0zM183,71h1.0v1.0h-1.0zM176,73h1.0v1.0h-1.0zM185,73h1.0v1.0h-1.0zM177,75h1.0v1.0h-1.0zM180,75h1.0v1.0h-1.0zM183,75h1.0v1.0h-1.0zM187,76h1.0v1.0h-1.0zM180,77h1.0v1.0h-1.0zM190,77h1.0v1.0h-1.0zM181,81h1.0v1.0h-1.0zM190,85h1.0v1.0h-1.0zM192,87h1.0v1.0h-1.0z" fill="#000" fill-opacity="0.3"/>
<path d="M192,57h1.0v1.0h-1.0zM181,58h1.0v1.0h-1.0zM186,59h1.0v1.0h-1.0zM183,60h1.0v1.0h-1.0zM173,62h1.0v1.0h-1.0zM178,64h1.0v1.0h-1.0zM186,70h1.0v1.0h-1.0zM181,72h1.0v1.0h-1.0zM190,74h1.0v1.0h-1.0zM183,77h1.0v1.0h-1.0zM178,81h1.0v1.0h-1.0zM182,81h1.0v1.0h-1.0zM183,81h1.0v1.0h-1.0zM184,83h1.0v1.0h-1.0z" fill="#000" fill-opacity="0.5"/>
<path d="M178,63h1.0v1.0h-1.0zM172,65h1.0v1.0h-1.0zM180,65h1.0v1.0h-1.0zM176,67h1.0v1.0h-1.0zM179,67h1.0v1.0h-1.0zM181,70h1.0v1.0h-1.0zM189,71h1.0v1.0h-1.0zM192,77h1.0v1.0h-1.0zM189,78h1.0v1.0h-1.0z" fill="#000" fill-opacity="0.6"/>
<path d="M187,40h1.0v1.0h-1.0zM207,41h1.0v1.0h-1.0zM173,56h1.0v1.0h-1.0zM198,67h1.0v1.0h-1.0zM191,72h1.0v1.0h-1.0zM188,73h1.0v1.0h-1.0zM205,74h1.0v1.0h-1.0z" fill="#000" fill-opacity="0.6"/>
<path d="M216,41h1.0v1.0h-1.0zM204,83h1.0v1.0h-1.0z" fill="#000" fill-opacity="0.5"/>
<path d="M195,55h1.0v1.0h-1.0zM196,59h1.0v1.0h-1.0z" fill="#000" fill-opacity="0.3"/>
<path d="M226,56h1.0v1.0h-1.0z" fill="#000" fill-opacity="0.7"/>
<rect x="166.6" y="19.2" width="84.0" height="75.1" stroke="#666" stroke-width="1.0" fill="none"/>
<rect x="168.0" y="54.8" width="25.0" height="38.5" stroke="#444" stroke-width="1.0" fill="none"/>
<rect x="197.4" y="40.6" width="35.2" height="52.7" stroke="#444" stroke-width="1.0" fill="none"/>
<text x="171.60" y="52.20" font-family="Liberation Sans, sans-serif" font-weight="bold" font-size="5.67" textLength="14.65" lengthAdjust="spacingAndGlyphs" fill="#000"  stroke="#000" stroke-width="0.3">27,77</text>
<text x="215.20" y="39.00" font-family="Liberation Sans, sans-serif" font-weight="bold" font-size="5.67" textLength="15.08" lengthAdjust="spacingAndGlyphs" fill="#000"  stroke="#000" stroke-width="0.3">54,64</text>
<text x="133.90" y="49.60" font-family="Liberation Sans, sans-serif" font-weight="bold" font-size="8.43" textLength="22.10" lengthAdjust="spacingAndGlyphs" fill="#000" >CD38</text>
<path d="M137.1,58.0 L137.1,68.6 L151.4,68.6" stroke="#111" stroke-width="1.4" fill="none"/>
<polygon points="137.1,54.0 134.79999999999998,58.6 139.4,58.6" fill="#111"/>
<polygon points="155.4,68.6 150.8,66.3 150.8,70.89999999999999" fill="#111"/>
<text x="137.60" y="80.00" font-family="Liberation Sans, sans-serif" font-weight="bold" font-size="8.57" textLength="21.63" lengthAdjust="spacingAndGlyphs" fill="#000" >CD21</text>
<line x1="117.5" y1="25.6" x2="165.4" y2="25.6" stroke="#222" stroke-width="1.3"/>
<polygon points="169.40,25.60 164.90,28.00 164.90,23.20" fill="#222"/>
<path d="M96,131h1.0v1.0h-1.0zM92,134h1.0v1.0h-1.0zM93,134h1.0v1.0h-1.0zM94,137h1.0v1.0h-1.0zM94,138h1.0v1.0h-1.0zM97,138h1.0v1.0h-1.0zM99,139h1.0v1.0h-1.0zM101,140h1.0v1.0h-1.0zM85,141h1.0v1.0h-1.0zM97,143h1.0v1.0h-1.0zM98,144h1.0v1.0h-1.0zM99,144h1.0v1.0h-1.0zM97,146h1.0v1.0h-1.0zM96,147h1.0v1.0h-1.0zM96,148h1.0v1.0h-1.0zM102,148h1.0v1.0h-1.0zM91,149h1.0v1.0h-1.0zM94,149h1.0v1.0h-1.0zM96,149h1.0v1.0h-1.0zM87,150h1.0v1.0h-1.0zM99,152h1.0v1.0h-1.0zM92,153h1.0v1.0h-1.0zM101,153h1.0v1.0h-1.0zM97,155h1.0v1.0h-1.0zM101,156h1.0v1.0h-1.0zM102,156h1.0v1.0h-1.0zM93,157h1.0v1.0h-1.0zM97,157h1.0v1.0h-1.0zM99,157h1.0v1.0h-1.0zM94,158h1.0v1.0h-1.0zM104,158h1.0v1.0h-1.0zM99,159h1.0v1.0h-1.0zM91,160h1.0v1.0h-1.0zM102,160h1.0v1.0h-1.0zM109,160h1.0v1.0h-1.0zM103,161h1.0v1.0h-1.0zM92,162h1.0v1.0h-1.0z" fill="#000" fill-opacity="0.9"/>
<path d="M103,132h1.0v1.0h-1.0zM87,137h1.0v1.0h-1.0zM95,137h1.0v1.0h-1.0zM93,138h1.0v1.0h-1.0zM95,138h1.0v1.0h-1.0zM104,138h1.0v1.0h-1.0zM93,139h1.0v1.0h-1.0zM100,141h1.0v1.0h-1.0zM96,142h1.0v1.0h-1.0zM89,143h1.0v1.0h-1.0zM102,143h1.0v1.0h-1.0zM91,144h1.0v1.0h-1.0zM94,144h1.0v1.0h-1.0zM95,144h1.0v1.0h-1.0zM97,144h1.0v1.0h-1.0zM100,144h1.0v1.0h-1.0zM92,145h1.0v1.0h-1.0zM94,147h1.0v1.0h-1.0zM94,148h1.0v1.0h-1.0zM97,149h1.0v1.0h-1.0zM100,149h1.0v1.0h-1.0zM100,150h1.0v1.0h-1.0zM101,150h1.0v1.0h-1.0zM96,151h1.0v1.0h-1.0zM99,153h1.0v1.0h-1.0zM98,154h1.0v1.0h-1.0zM101,154h1.0v1.0h-1.0zM95,155h1.0v1.0h-1.0zM101,155h1.0v1.0h-1.0zM96,156h1.0v1.0h-1.0zM99,156h1.0v1.0h-1.0zM96,159h1.0v1.0h-1.0zM101,160h1.0v1.0h-1.0zM98,163h1.0v1.0h-1.0z" fill="#000" fill-opacity="0.5"/>
<path d="M94,133h1.0v1.0h-1.0zM89,137h1.0v1.0h-1.0zM92,137h1.0v1.0h-1.0zM97,137h1.0v1.0h-1.0zM94,140h1.0v1.0h-1.0zM95,141h1.0v1.0h-1.0zM96,141h1.0v1.0h-1.0zM92,143h1.0v1.0h-1.0zM96,143h1.0v1.0h-1.0zM90,144h1.0v1.0h-1.0zM104,144h1.0v1.0h-1.0zM93,145h1.0v1.0h-1.0zM96,146h1.0v1.0h-1.0zM99,146h1.0v1.0h-1.0zM101,146h1.0v1.0h-1.0zM102,146h1.0v1.0h-1.0zM93,147h1.0v1.0h-1.0zM91,148h1.0v1.0h-1.0zM95,149h1.0v1.0h-1.0zM97,150h1.0v1.0h-1.0zM86,151h1.0v1.0h-1.0zM93,151h1.0v1.0h-1.0zM97,151h1.0v1.0h-1.0zM96,154h1.0v1.0h-1.0zM99,154h1.0v1.0h-1.0zM93,155h1.0v1.0h-1.0zM105,155h1.0v1.0h-1.0zM90,156h1.0v1.0h-1.0zM97,156h1.0v1.0h-1.0zM88,157h1.0v1.0h-1.0zM92,157h1.0v1.0h-1.0zM97,158h1.0v1.0h-1.0zM98,158h1.0v1.0h-1.0zM94,161h1.0v1.0h-1.0zM103,162h1.0v1.0h-1.0z" fill="#000" fill-opacity="0.7"/>
<path d="M97,133h1.0v1.0h-1.0zM97,134h1.0v1.0h-1.0zM94,139h1.0v1.0h-1.0zM95,140h1.0v1.0h-1.0zM96,140h1.0v1.0h-1.0zM103,140h1.0v1.0h-1.0zM90,143h1.0v1.0h-1.0zM101,143h1.0v1.0h-1.0zM96,144h1.0v1.0h-1.0zM89,145h1.0v1.0h-1.0zM94,145h1.0v1.0h-1.0zM97,145h1.0v1.0h-1.0zM99,145h1.0v1.0h-1.0zM95,146h1.0v1.0h-1.0zM95,147h1.0v1.0h-1.0zM100,147h1.0v1.0h-1.0zM97,148h1.0v1.0h-1.0zM99,148h1.0v1.0h-1.0zM98,149h1.0v1.0h-1.0zM99,149h1.0v1.0h-1.0zM101,149h1.0v1.0h-1.0zM102,149h1.0v1.0h-1.0zM95,151h1.0v1.0h-1.0zM102,151h1.0v1.0h-1.0zM92,152h1.0v1.0h-1.0zM95,152h1.0v1.0h-1.0zM96,152h1.0v1.0h-1.0zM96,153h1.0v1.0h-1.0zM98,153h1.0v1.0h-1.0zM89,154h1.0v1.0h-1.0zM96,155h1.0v1.0h-1.0zM89,156h1.0v1.0h-1.0zM94,156h1.0v1.0h-1.0zM90,157h1.0v1.0h-1.0zM95,159h1.0v1.0h-1.0zM104,159h1.0v1.0h-1.0z" fill="#000" fill-opacity="0.6"/>
<path d="M94,134h1.0v1.0h-1.0zM102,135h1.0v1.0h-1.0zM88,138h1.0v1.0h-1.0zM86,139h1.0v1.0h-1.0zM92,139h1.0v1.0h-1.0zM97,139h1.0v1.0h-1.0zM89,140h1.0v1.0h-1.0zM93,141h1.0v1.0h-1.0zM102,141h1.0v1.0h-1.0zM95,142h1.0v1.0h-1.0zM98,142h1.0v1.0h-1.0zM102,142h1.0v1.0h-1.0zM99,143h1.0v1.0h-1.0zM101,144h1.0v1.0h-1.0zM87,145h1.0v1.0h-1.0zM100,145h1.0v1.0h-1.0zM91,146h1.0v1.0h-1.0zM98,146h1.0v1.0h-1.0zM95,148h1.0v1.0h-1.0zM101,148h1.0v1.0h-1.0zM90,150h1.0v1.0h-1.0zM102,150h1.0v1.0h-1.0zM93,152h1.0v1.0h-1.0zM105,152h1.0v1.0h-1.0zM95,154h1.0v1.0h-1.0zM98,155h1.0v1.0h-1.0zM98,157h1.0v1.0h-1.0zM100,157h1.0v1.0h-1.0zM83,158h1.0v1.0h-1.0zM99,158h1.0v1.0h-1.0zM93,160h1.0v1.0h-1.0zM100,162h1.0v1.0h-1.0zM102,162h1.0v1.0h-1.0z" fill="#000" fill-opacity="0.4"/>
<path d="M89,135h1.0v1.0h-1.0zM104,135h1.0v1.0h-1.0zM96,137h1.0v1.0h-1.0zM89,139h1.0v1.0h-1.0zM91,139h1.0v1.0h-1.0zM96,139h1.0v1.0h-1.0zM98,139h1.0v1.0h-1.0zM97,140h1.0v1.0h-1.0zM90,141h1.0v1.0h-1.0zM99,141h1.0v1.0h-1.0zM90,142h1.0v1.0h-1.0zM91,143h1.0v1.0h-1.0zM93,143h1.0v1.0h-1.0zM91,145h1.0v1.0h-1.0zM95,145h1.0v1.0h-1.0zM96,145h1.0v1.0h-1.0zM83,146h1.0v1.0h-1.0zM88,146h1.0v1.0h-1.0zM94,146h1.0v1.0h-1.0zM98,147h1.0v1.0h-1.0zM92,148h1.0v1.0h-1.0zM93,149h1.0v1.0h-1.0zM93,150h1.0v1.0h-1.0zM94,150h1.0v1.0h-1.0zM96,150h1.0v1.0h-1.0zM98,150h1.0v1.0h-1.0zM99,150h1.0v1.0h-1.0zM98,152h1.0v1.0h-1.0zM107,152h1.0v1.0h-1.0zM95,153h1.0v1.0h-1.0zM100,153h1.0v1.0h-1.0zM94,154h1.0v1.0h-1.0zM107,155h1.0v1.0h-1.0zM93,156h1.0v1.0h-1.0zM102,158h1.0v1.0h-1.0zM97,159h1.0v1.0h-1.0zM96,162h1.0v1.0h-1.0zM99,164h1.0v1.0h-1.0z" fill="#000" fill-opacity="0.8"/>
<path d="M97,131h1.0v1.0h-1.0zM97,135h1.0v1.0h-1.0zM102,137h1.0v1.0h-1.0zM106,140h1.0v1.0h-1.0zM93,142h1.0v1.0h-1.0zM101,143h1.0v1.0h-1.0zM110,147h1.0v1.0h-1.0zM87,150h1.0v1.0h-1.0zM97,153h1.0v1.0h-1.0zM98,153h1.0v1.0h-1.0zM100,153h1.0v1.0h-1.0zM103,157h1.0v1.0h-1.0zM107,157h1.0v1.0h-1.0zM103,158h1.0v1.0h-1.0zM105,159h1.0v1.0h-1.0zM88,161h1.0v1.0h-1.0zM92,161h1.0v1.0h-1.0zM87,165h1.0v1.0h-1.0z" fill="#000" fill-opacity="0.4"/>
<path d="M102,131h1.0v1.0h-1.0zM106,139h1.0v1.0h-1.0zM104,140h1.0v1.0h-1.0zM100,144h1.0v1.0h-1.0zM99,145h1.0v1.0h-1.0zM97,149h1.0v1.0h-1.0zM91,150h1.0v1.0h-1.0zM101,151h1.0v1.0h-1.0zM106,159h1.0v1.0h-1.0zM108,159h1.0v1.0h-1.0zM93,163h1.0v1.0h-1.0zM94,168h1.0v1.0h-1.0z" fill="#000" fill-opacity="0.5"/>
<path d="M97,133h1.0v1.0h-1.0zM94,134h1.0v1.0h-1.0zM102,136h1.0v1.0h-1.0zM89,143h1.0v1.0h-1.0zM93,143h1.0v1.0h-1.0zM95,144h1.0v1.0h-1.0zM87,147h1.0v1.0h-1.0zM96,149h1.0v1.0h-1.0zM93,167h1.0v1.0h-1.0zM93,177h1.0v1.0h-1.0z" fill="#000" fill-opacity="0.3"/>
<path d="M99,134h1.0v1.0h-1.0zM99,139h1.0v1.0h-1.0zM90,148h1.0v1.0h-1.0zM91,148h1.0v1.0h-1.0zM95,152h1.0v1.0h-1.0zM85,153h1.0v1.0h-1.0z" fill="#000" fill-opacity="0.6"/>
<rect x="40.5" y="121.0" width="83.0" height="75.3" stroke="#666" stroke-width="1.0" fill="none"/>
<text x="5.20" y="145.20" font-family="Liberation Sans, sans-serif" font-weight="normal" font-size="7.33" textLength="16.48" lengthAdjust="spacingAndGlyphs" fill="#000"  stroke="#000" stroke-width="0.3">IgM</text>
<path d="M10.9,154.3 L10.9,164.6 L24.0,164.6" stroke="#111" stroke-width="1.4" fill="none"/>
<polygon points="10.9,150.3 8.600000000000001,154.9 13.2,154.9" fill="#111"/>
<polygon points="28.0,164.6 23.4,162.29999999999998 23.4,166.9" fill="#111"/>
<text x="12.00" y="176.60" font-family="Liberation Sans, sans-serif" font-weight="bold" font-size="7.47" textLength="22.42" lengthAdjust="spacingAndGlyphs" fill="#000" >CD19</text>
<line x1="172" y1="88.5" x2="120.58508902537942" y2="124.21785405915142" stroke="#222" stroke-width="1.3"/>
<polygon points="117.30,126.50 119.63,121.96 122.37,125.90" fill="#222"/>
<path d="M227,131h1.0v1.0h-1.0zM222,136h1.0v1.0h-1.0zM224,136h1.0v1.0h-1.0zM219,137h1.0v1.0h-1.0zM219,139h1.0v1.0h-1.0zM225,139h1.0v1.0h-1.0zM217,141h1.0v1.0h-1.0zM227,141h1.0v1.0h-1.0zM219,142h1.0v1.0h-1.0zM220,143h1.0v1.0h-1.0zM224,144h1.0v1.0h-1.0zM215,145h1.0v1.0h-1.0zM219,145h1.0v1.0h-1.0zM221,145h1.0v1.0h-1.0zM222,145h1.0v1.0h-1.0zM224,147h1.0v1.0h-1.0zM220,148h1.0v1.0h-1.0zM222,148h1.0v1.0h-1.0zM223,148h1.0v1.0h-1.0zM218,149h1.0v1.0h-1.0zM219,149h1.0v1.0h-1.0zM221,149h1.0v1.0h-1.0zM222,149h1.0v1.0h-1.0zM220,150h1.0v1.0h-1.0zM222,150h1.0v1.0h-1.0zM224,150h1.0v1.0h-1.0zM227,151h1.0v1.0h-1.0zM220,152h1.0v1.0h-1.0zM221,152h1.0v1.0h-1.0zM220,153h1.0v1.0h-1.0zM221,153h1.0v1.0h-1.0zM218,155h1.0v1.0h-1.0zM224,156h1.0v1.0h-1.0zM217,157h1.0v1.0h-1.0zM222,157h1.0v1.0h-1.0zM224,157h1.0v1.0h-1.0zM222,158h1.0v1.0h-1.0zM218,159h1.0v1.0h-1.0zM220,162h1.0v1.0h-1.0zM223,162h1.0v1.0h-1.0z" fill="#000" fill-opacity="0.6"/>
<path d="M222,132h1.0v1.0h-1.0zM219,135h1.0v1.0h-1.0zM219,141h1.0v1.0h-1.0zM223,141h1.0v1.0h-1.0zM225,141h1.0v1.0h-1.0zM224,142h1.0v1.0h-1.0zM222,143h1.0v1.0h-1.0zM223,143h1.0v1.0h-1.0zM224,143h1.0v1.0h-1.0zM218,144h1.0v1.0h-1.0zM219,144h1.0v1.0h-1.0zM223,144h1.0v1.0h-1.0zM226,144h1.0v1.0h-1.0zM224,145h1.0v1.0h-1.0zM221,146h1.0v1.0h-1.0zM225,146h1.0v1.0h-1.0zM223,147h1.0v1.0h-1.0zM222,151h1.0v1.0h-1.0zM226,151h1.0v1.0h-1.0zM213,152h1.0v1.0h-1.0zM215,152h1.0v1.0h-1.0zM218,152h1.0v1.0h-1.0zM212,153h1.0v1.0h-1.0zM222,153h1.0v1.0h-1.0zM223,153h1.0v1.0h-1.0zM220,154h1.0v1.0h-1.0zM223,154h1.0v1.0h-1.0zM220,155h1.0v1.0h-1.0zM221,155h1.0v1.0h-1.0zM222,156h1.0v1.0h-1.0zM229,156h1.0v1.0h-1.0zM220,157h1.0v1.0h-1.0zM223,157h1.0v1.0h-1.0zM227,157h1.0v1.0h-1.0zM219,158h1.0v1.0h-1.0zM220,158h1.0v1.0h-1.0zM223,159h1.0v1.0h-1.0zM225,159h1.0v1.0h-1.0zM222,160h1.0v1.0h-1.0zM228,165h1.0v1.0h-1.0z" fill="#000" fill-opacity="0.7"/>
<path d="M221,133h1.0v1.0h-1.0zM222,133h1.0v1.0h-1.0zM225,134h1.0v1.0h-1.0zM223,136h1.0v1.0h-1.0zM225,137h1.0v1.0h-1.0zM214,138h1.0v1.0h-1.0zM222,140h1.0v1.0h-1.0zM223,140h1.0v1.0h-1.0zM223,145h1.0v1.0h-1.0zM220,146h1.0v1.0h-1.0zM222,146h1.0v1.0h-1.0zM228,146h1.0v1.0h-1.0zM219,148h1.0v1.0h-1.0zM221,148h1.0v1.0h-1.0zM230,148h1.0v1.0h-1.0zM221,150h1.0v1.0h-1.0zM223,150h1.0v1.0h-1.0zM229,150h1.0v1.0h-1.0zM218,151h1.0v1.0h-1.0zM219,151h1.0v1.0h-1.0zM222,152h1.0v1.0h-1.0zM221,154h1.0v1.0h-1.0zM222,154h1.0v1.0h-1.0zM221,156h1.0v1.0h-1.0zM227,156h1.0v1.0h-1.0zM216,157h1.0v1.0h-1.0zM229,157h1.0v1.0h-1.0zM224,160h1.0v1.0h-1.0zM221,161h1.0v1.0h-1.0zM218,163h1.0v1.0h-1.0z" fill="#000" fill-opacity="0.9"/>
<path d="M227,134h1.0v1.0h-1.0zM220,135h1.0v1.0h-1.0zM220,139h1.0v1.0h-1.0zM228,139h1.0v1.0h-1.0zM224,140h1.0v1.0h-1.0zM228,140h1.0v1.0h-1.0zM222,141h1.0v1.0h-1.0zM216,142h1.0v1.0h-1.0zM225,143h1.0v1.0h-1.0zM216,144h1.0v1.0h-1.0zM217,144h1.0v1.0h-1.0zM222,144h1.0v1.0h-1.0zM217,146h1.0v1.0h-1.0zM218,147h1.0v1.0h-1.0zM220,147h1.0v1.0h-1.0zM222,147h1.0v1.0h-1.0zM225,148h1.0v1.0h-1.0zM220,149h1.0v1.0h-1.0zM223,149h1.0v1.0h-1.0zM227,150h1.0v1.0h-1.0zM221,151h1.0v1.0h-1.0zM223,151h1.0v1.0h-1.0zM218,154h1.0v1.0h-1.0zM227,154h1.0v1.0h-1.0zM216,155h1.0v1.0h-1.0zM223,155h1.0v1.0h-1.0zM216,156h1.0v1.0h-1.0zM219,156h1.0v1.0h-1.0zM218,158h1.0v1.0h-1.0zM221,158h1.0v1.0h-1.0zM221,160h1.0v1.0h-1.0zM220,161h1.0v1.0h-1.0z" fill="#000" fill-opacity="0.5"/>
<path d="M215,135h1.0v1.0h-1.0zM225,135h1.0v1.0h-1.0zM220,137h1.0v1.0h-1.0zM223,137h1.0v1.0h-1.0zM220,138h1.0v1.0h-1.0zM225,138h1.0v1.0h-1.0zM216,139h1.0v1.0h-1.0zM221,139h1.0v1.0h-1.0zM224,139h1.0v1.0h-1.0zM215,140h1.0v1.0h-1.0zM224,141h1.0v1.0h-1.0zM220,142h1.0v1.0h-1.0zM223,142h1.0v1.0h-1.0zM225,142h1.0v1.0h-1.0zM221,143h1.0v1.0h-1.0zM225,144h1.0v1.0h-1.0zM220,145h1.0v1.0h-1.0zM230,145h1.0v1.0h-1.0zM224,146h1.0v1.0h-1.0zM219,147h1.0v1.0h-1.0zM226,147h1.0v1.0h-1.0zM217,148h1.0v1.0h-1.0zM229,149h1.0v1.0h-1.0zM214,150h1.0v1.0h-1.0zM217,151h1.0v1.0h-1.0zM220,151h1.0v1.0h-1.0zM226,152h1.0v1.0h-1.0zM218,153h1.0v1.0h-1.0zM217,154h1.0v1.0h-1.0zM225,154h1.0v1.0h-1.0zM224,155h1.0v1.0h-1.0zM225,155h1.0v1.0h-1.0zM219,160h1.0v1.0h-1.0zM224,162h1.0v1.0h-1.0zM221,165h1.0v1.0h-1.0z" fill="#000" fill-opacity="0.8"/>
<path d="M221,137h1.0v1.0h-1.0zM226,137h1.0v1.0h-1.0zM221,138h1.0v1.0h-1.0zM223,139h1.0v1.0h-1.0zM220,141h1.0v1.0h-1.0zM221,141h1.0v1.0h-1.0zM226,141h1.0v1.0h-1.0zM221,142h1.0v1.0h-1.0zM222,142h1.0v1.0h-1.0zM228,143h1.0v1.0h-1.0zM220,144h1.0v1.0h-1.0zM221,144h1.0v1.0h-1.0zM223,146h1.0v1.0h-1.0zM221,147h1.0v1.0h-1.0zM216,148h1.0v1.0h-1.0zM227,148h1.0v1.0h-1.0zM224,149h1.0v1.0h-1.0zM219,152h1.0v1.0h-1.0zM223,152h1.0v1.0h-1.0zM224,153h1.0v1.0h-1.0zM219,155h1.0v1.0h-1.0zM223,158h1.0v1.0h-1.0zM220,159h1.0v1.0h-1.0z" fill="#000" fill-opacity="1.0"/>
<path d="M218,126h1.0v1.0h-1.0zM214,133h1.0v1.0h-1.0zM225,134h1.0v1.0h-1.0zM218,137h1.0v1.0h-1.0zM226,144h1.0v1.0h-1.0zM218,146h1.0v1.0h-1.0zM217,153h1.0v1.0h-1.0zM213,155h1.0v1.0h-1.0zM221,155h1.0v1.0h-1.0zM217,170h1.0v1.0h-1.0z" fill="#000" fill-opacity="0.4"/>
<path d="M230,127h1.0v1.0h-1.0zM223,134h1.0v1.0h-1.0zM221,137h1.0v1.0h-1.0zM221,139h1.0v1.0h-1.0zM229,139h1.0v1.0h-1.0zM217,140h1.0v1.0h-1.0zM222,142h1.0v1.0h-1.0zM221,145h1.0v1.0h-1.0zM226,146h1.0v1.0h-1.0zM224,148h1.0v1.0h-1.0zM221,149h1.0v1.0h-1.0zM218,150h1.0v1.0h-1.0zM218,151h1.0v1.0h-1.0zM220,151h1.0v1.0h-1.0zM222,153h1.0v1.0h-1.0zM225,153h1.0v1.0h-1.0zM228,154h1.0v1.0h-1.0zM220,155h1.0v1.0h-1.0zM227,155h1.0v1.0h-1.0zM225,159h1.0v1.0h-1.0zM219,160h1.0v1.0h-1.0zM217,167h1.0v1.0h-1.0zM219,169h1.0v1.0h-1.0z" fill="#000" fill-opacity="0.3"/>
<path d="M216,130h1.0v1.0h-1.0zM221,144h1.0v1.0h-1.0zM219,145h1.0v1.0h-1.0zM224,145h1.0v1.0h-1.0zM225,146h1.0v1.0h-1.0zM221,148h1.0v1.0h-1.0zM221,150h1.0v1.0h-1.0zM219,151h1.0v1.0h-1.0zM219,153h1.0v1.0h-1.0zM227,162h1.0v1.0h-1.0zM225,163h1.0v1.0h-1.0z" fill="#000" fill-opacity="0.6"/>
<path d="M225,131h1.0v1.0h-1.0zM218,133h1.0v1.0h-1.0zM222,133h1.0v1.0h-1.0zM224,138h1.0v1.0h-1.0zM225,138h1.0v1.0h-1.0zM213,152h1.0v1.0h-1.0zM220,153h1.0v1.0h-1.0zM223,154h1.0v1.0h-1.0zM215,156h1.0v1.0h-1.0zM223,156h1.0v1.0h-1.0zM222,163h1.0v1.0h-1.0zM223,168h1.0v1.0h-1.0zM221,169h1.0v1.0h-1.0z" fill="#000" fill-opacity="0.5"/>
<rect x="167.2" y="120.7" width="84.3" height="75.7" stroke="#666" stroke-width="1.0" fill="none"/>
<line x1="216.6" y1="88.2" x2="218.91622269147157" y2="121.31340588548244" stroke="#222" stroke-width="1.6"/>
<polygon points="219.30,126.80 215.89,121.02 221.87,120.61" fill="#222"/>
<text x="292.80" y="16.00" font-family="Liberation Sans, sans-serif" font-weight="bold" font-size="16.32" textLength="13.44" lengthAdjust="spacingAndGlyphs" fill="#000" >B</text>
<line x1="339.0" y1="46.0" x2="339.0" y2="165.8" stroke="#000" stroke-width="1.6"/>
<line x1="338.2" y1="165.0" x2="517.0" y2="165.0" stroke="#000" stroke-width="1.7"/>
<line x1="334.6" y1="46.400000000000006" x2="339.3" y2="46.400000000000006" stroke="#000" stroke-width="1.4"/>
<text x="314.90" y="48.90" font-family="Liberation Sans, sans-serif" font-weight="bold" font-size="8.20" textLength="18.86" lengthAdjust="spacingAndGlyphs" fill="#000" >1000</text>
<line x1="334.6" y1="70.12" x2="339.3" y2="70.12" stroke="#000" stroke-width="1.4"/>
<text x="319.70" y="72.94" font-family="Liberation Sans, sans-serif" font-weight="bold" font-size="8.20" textLength="13.20" lengthAdjust="spacingAndGlyphs" fill="#000" >800</text>
<line x1="334.6" y1="93.84" x2="339.3" y2="93.84" stroke="#000" stroke-width="1.4"/>
<text x="319.70" y="97.22" font-family="Liberation Sans, sans-serif" font-weight="bold" font-size="8.20" textLength="13.20" lengthAdjust="spacingAndGlyphs" fill="#000" >600</text>
<line x1="334.6" y1="117.56" x2="339.3" y2="117.56" stroke="#000" stroke-width="1.4"/>
<text x="319.70" y="120.82" font-family="Liberation Sans, sans-serif" font-weight="bold" font-size="8.20" textLength="13.20" lengthAdjust="spacingAndGlyphs" fill="#000" >400</text>
<line x1="334.6" y1="141.28" x2="339.3" y2="141.28" stroke="#000" stroke-width="1.4"/>
<text x="319.70" y="144.26" font-family="Liberation Sans, sans-serif" font-weight="bold" font-size="8.20" textLength="13.20" lengthAdjust="spacingAndGlyphs" fill="#000" >200</text>
<line x1="334.6" y1="165.0" x2="339.3" y2="165.0" stroke="#000" stroke-width="1.4"/>
<text x="328.50" y="167.70" font-family="Liberation Sans, sans-serif" font-weight="bold" font-size="8.20" textLength="5.15" lengthAdjust="spacingAndGlyphs" fill="#000" >0</text>
<line x1="383.1" y1="165" x2="383.1" y2="168.7" stroke="#000" stroke-width="1.4"/>
<line x1="472.3" y1="165" x2="472.3" y2="168.5" stroke="#000" stroke-width="1.4"/>
<text x="368.50" y="179.15" font-family="Liberation Sans, sans-serif" font-weight="bold" font-size="10.09" textLength="27.15" lengthAdjust="spacingAndGlyphs" fill="#000" >CD21</text>
<text x="457.60" y="179.15" font-family="Liberation Sans, sans-serif" font-weight="bold" font-size="10.09" textLength="26.53" lengthAdjust="spacingAndGlyphs" fill="#000" >CD21</text>
<path d="M396.1,173.5 H398.9 M397.5,172.1 V174.9" stroke="#000" stroke-width="1.1"/>
<text x="484.2" y="175.4" font-family="Liberation Sans, sans-serif" font-weight="bold" font-size="6.9" textLength="4.4" lengthAdjust="spacingAndGlyphs" stroke="#000" stroke-width="0.35">lo</text>
<path d="M491.2,172.6 H494.8 L494.2,175.1 H491.8 Z" fill="none" stroke="#333" stroke-width="0.9"/>
<rect x="492.5" y="173.4" width="1" height="1" fill="#666"/>
<text transform="translate(311.0,155.0) rotate(-90)" x="0" y="0" font-family="Liberation Sans, sans-serif" font-weight="bold" font-size="10.5" textLength="100.4" lengthAdjust="spacingAndGlyphs">IgM expression, MFI</text>
<line x1="353.6" y1="118.1" x2="413.8" y2="118.1" stroke="#000" stroke-width="1.6"/>
<line x1="442.0" y1="105.6" x2="502.3" y2="105.6" stroke="#000" stroke-width="1.6"/>
<circle cx="376.25" cy="106.9" r="2.15" fill="#000"/>
<circle cx="376.25" cy="111.9" r="2.15" fill="#000"/>
<circle cx="383.5" cy="108.1" r="2.15" fill="#000"/>
<circle cx="383.5" cy="115.25" r="2.15" fill="#000"/>
<circle cx="390.6" cy="115" r="2.15" fill="#000"/>
<circle cx="369.1" cy="118.1" r="2.15" fill="#000"/>
<circle cx="376.25" cy="119.4" r="2.15" fill="#000"/>
<circle cx="390.6" cy="119.4" r="2.15" fill="#000"/>
<circle cx="383.5" cy="123.1" r="2.15" fill="#000"/>
<circle cx="383.5" cy="143.1" r="2.15" fill="#000"/>
<rect x="470.0" y="66.85" width="4.5" height="4.5" fill="#000"/>
<rect x="470.0" y="86.5" width="4.5" height="4.5" fill="#000"/>
<rect x="463.15" y="90.85" width="4.5" height="4.5" fill="#000"/>
<rect x="470.0" y="97.15" width="4.5" height="4.5" fill="#000"/>
<rect x="477.15" y="95.85" width="4.5" height="4.5" fill="#000"/>
<rect x="463.15" y="109.25" width="4.5" height="4.5" fill="#000"/>
<rect x="470.0" y="111.5" width="4.5" height="4.5" fill="#000"/>
<rect x="463.15" y="123.35" width="4.5" height="4.5" fill="#000"/>
<rect x="470.0" y="127.75" width="4.5" height="4.5" fill="#000"/>
<rect x="477.15" y="125.25" width="4.5" height="4.5" fill="#000"/>
<text x="292.80" y="225.80" font-family="Liberation Sans, sans-serif" font-weight="bold" font-size="16.59" textLength="12.54" lengthAdjust="spacingAndGlyphs" fill="#000" >D</text>
<line x1="339.0" y1="262.6" x2="339.0" y2="383.5" stroke="#000" stroke-width="1.6"/>
<line x1="338.2" y1="382.7" x2="517.0" y2="382.7" stroke="#000" stroke-width="1.7"/>
<line x1="334.6" y1="263.0" x2="339.3" y2="263.0" stroke="#000" stroke-width="1.4"/>
<text x="321.70" y="265.70" font-family="Liberation Sans, sans-serif" font-weight="bold" font-size="8.20" textLength="12.00" lengthAdjust="spacingAndGlyphs" fill="#000" >1.5</text>
<line x1="334.6" y1="302.9" x2="339.3" y2="302.9" stroke="#000" stroke-width="1.4"/>
<text x="321.40" y="305.50" font-family="Liberation Sans, sans-serif" font-weight="bold" font-size="8.20" textLength="13.09" lengthAdjust="spacingAndGlyphs" fill="#000" >1.0</text>
<line x1="334.6" y1="342.8" x2="339.3" y2="342.8" stroke="#000" stroke-width="1.4"/>
<text x="321.70" y="346.10" font-family="Liberation Sans, sans-serif" font-weight="bold" font-size="8.20" textLength="12.00" lengthAdjust="spacingAndGlyphs" fill="#000" >0.5</text>
<line x1="334.6" y1="382.7" x2="339.3" y2="382.7" stroke="#000" stroke-width="1.4"/>
<text x="328.60" y="385.80" font-family="Liberation Sans, sans-serif" font-weight="bold" font-size="8.20" textLength="6.45" lengthAdjust="spacingAndGlyphs" fill="#000" >0</text>
<line x1="383.8" y1="382.7" x2="383.8" y2="386.3" stroke="#000" stroke-width="1.4"/>
<line x1="472.3" y1="382.7" x2="472.3" y2="386.3" stroke="#000" stroke-width="1.4"/>
<text x="368.50" y="397.00" font-family="Liberation Sans, sans-serif" font-weight="bold" font-size="10.51" textLength="27.15" lengthAdjust="spacingAndGlyphs" fill="#000" >CD21</text>
<text x="457.60" y="397.00" font-family="Liberation Sans, sans-serif" font-weight="bold" font-size="10.51" textLength="26.53" lengthAdjust="spacingAndGlyphs" fill="#000" >CD21</text>
<path d="M396.1,391.3 H398.9 M397.5,389.9 V392.70000000000005" stroke="#000" stroke-width="1.1"/>
<text x="484.2" y="393.20000000000005" font-family="Liberation Sans, sans-serif" font-weight="bold" font-size="6.9" textLength="4.4" lengthAdjust="spacingAndGlyphs" stroke="#000" stroke-width="0.35">lo</text>
<path d="M491.2,390.4 H494.8 L494.2,392.9 H491.8 Z" fill="none" stroke="#333" stroke-width="0.9"/>
<rect x="492.5" y="391.20000000000005" width="1" height="1" fill="#666"/>
<text transform="translate(311.7,343.3) rotate(-90)" x="0" y="0" font-family="Liberation Sans, sans-serif" font-weight="bold" font-size="10.2" textLength="39.1" lengthAdjust="spacingAndGlyphs">κ/λ ratio</text>
<line x1="370.6" y1="268.5" x2="481.9" y2="268.5" stroke="#000" stroke-width="1.4"/>
<text x="406.5" y="265.3" font-family="Liberation Sans, sans-serif" font-weight="bold" font-size="9.8" textLength="40.8" lengthAdjust="spacingAndGlyphs"><tspan font-style="italic">P</tspan> = .0019</text>
<line x1="353.7" y1="284.0" x2="414.3" y2="284.0" stroke="#000" stroke-width="1.6"/>
<line x1="443.4" y1="327.8" x2="503.6" y2="327.8" stroke="#000" stroke-width="1.6"/>
<polygon points="369.6,278.1 364.90000000000003,287.0 374.3,287.0" fill="#000"/>
<polygon points="383.9,284.6 379.2,292.7 388.59999999999997,292.7" fill="#000"/>
<polygon points="391.2,278.1 386.5,287.0 395.9,287.0" fill="#000"/>
<polygon points="398.1,278.6 393.40000000000003,287.4 402.8,287.4" fill="#000"/>
<polygon points="454.0,321.3 464.0,321.3 459.0,330.7" fill="#000"/>
<polygon points="468.5,313.5 478.29999999999995,313.5 473.4,323.1" fill="#000"/>
<polygon points="468.5,331.6 478.29999999999995,331.6 473.4,341.2" fill="#000"/>
<polygon points="482.70000000000005,325.0 492.5,325.0 487.6,334.7" fill="#000"/>
<text x="2.80" y="226.00" font-family="Liberation Sans, sans-serif" font-weight="bold" font-size="16.18" textLength="13.69" lengthAdjust="spacingAndGlyphs" fill="#000" >C</text>
<text x="132.50" y="223.00" font-family="Liberation Sans, sans-serif" font-weight="bold" font-size="10.37" textLength="24.54" lengthAdjust="spacingAndGlyphs" fill="#000" >CVID</text>
<text x="4.80" y="256.80" font-family="Liberation Sans, sans-serif" font-weight="bold" font-size="8.30" textLength="22.40" lengthAdjust="spacingAndGlyphs" fill="#000" >CD19</text>
<path d="M9.7,262.5 L9.7,275.7 L25.9,275.7" stroke="#111" stroke-width="1.4" fill="none"/>
<polygon points="9.7,258.5 7.3999999999999995,263.1 12.0,263.1" fill="#111"/>
<polygon points="29.9,275.7 25.299999999999997,273.4 25.299999999999997,278.0" fill="#111"/>
<text x="10.00" y="288.80" font-family="Liberation Sans, sans-serif" font-weight="bold" font-size="8.30" textLength="21.10" lengthAdjust="spacingAndGlyphs" fill="#000" >CD21</text>
<text x="4.60" y="366.80" font-family="Liberation Sans, sans-serif" font-weight="normal" font-size="7.19" textLength="15.86" lengthAdjust="spacingAndGlyphs" fill="#000"  stroke="#000" stroke-width="0.3">IgM</text>
<path d="M9.7,373.9 L9.7,386.4 L25.9,386.4" stroke="#111" stroke-width="1.4" fill="none"/>
<polygon points="9.7,369.9 7.3999999999999995,374.5 12.0,374.5" fill="#111"/>
<polygon points="29.9,386.4 25.299999999999997,384.09999999999997 25.299999999999997,388.7" fill="#111"/>
<text x="23.9" y="399.6" font-family="Liberation Sans, sans-serif" font-weight="bold" font-size="8.8" textLength="5.3" lengthAdjust="spacingAndGlyphs">λ</text>
<rect x="104.6" y="229.3" width="85.8" height="86.0" stroke="#777" stroke-width="1.0" fill="none"/>
<text x="107.80" y="233.60" font-family="Liberation Sans, sans-serif" font-weight="bold" font-size="6.08" textLength="13.60" lengthAdjust="spacingAndGlyphs" fill="#000"  stroke="#000" stroke-width="0.3">21,70</text>
<text x="143.10" y="244.00" font-family="Liberation Sans, sans-serif" font-weight="bold" font-size="5.95" textLength="14.20" lengthAdjust="spacingAndGlyphs" fill="#000"  stroke="#000" stroke-width="0.3">71,41</text>
<path d="M107.00,259.50 C107.17,257.78 110.25,255.42 112.00,253.50 C113.75,251.58 116.00,249.15 117.50,248.00 C119.00,246.85 119.67,246.77 121.00,246.60 C122.33,246.43 124.27,246.60 125.50,247.00 C126.73,247.40 127.72,247.83 128.40,249.00 C129.08,250.17 129.40,252.17 129.60,254.00 C129.80,255.83 129.78,258.40 129.60,260.00 C129.42,261.60 130.10,262.93 128.50,263.60 C126.90,264.27 122.92,263.97 120.00,264.00 C117.08,264.03 113.17,264.55 111.00,263.80 C108.83,263.05 106.83,261.22 107.00,259.50Z" fill="#f6f6f6" stroke="#666" stroke-width="0.5"/><path d="M108.69,259.35 C108.83,257.85 111.53,255.78 113.06,254.10 C114.59,252.42 116.56,250.29 117.88,249.29 C119.19,248.28 119.77,248.21 120.94,248.06 C122.10,247.92 123.80,248.06 124.88,248.41 C125.95,248.76 126.81,249.14 127.41,250.16 C128.01,251.18 128.29,252.93 128.46,254.54 C128.64,256.14 128.62,258.39 128.46,259.79 C128.30,261.19 128.90,262.35 127.50,262.94 C126.10,263.52 122.61,263.26 120.06,263.29 C117.51,263.32 114.08,263.77 112.19,263.11 C110.29,262.46 108.54,260.85 108.69,259.35Z" fill="#e2e2e2" stroke="#666" stroke-width="0.5"/><path d="M110.38,259.20 C110.50,257.91 112.81,256.14 114.12,254.70 C115.44,253.26 117.12,251.44 118.25,250.57 C119.38,249.71 119.88,249.65 120.88,249.53 C121.88,249.40 123.33,249.52 124.25,249.82 C125.17,250.12 125.91,250.45 126.43,251.32 C126.94,252.20 127.17,253.70 127.32,255.07 C127.47,256.45 127.46,258.38 127.32,259.57 C127.19,260.77 127.70,261.78 126.50,262.28 C125.30,262.78 122.31,262.55 120.12,262.57 C117.94,262.60 115.00,262.99 113.38,262.43 C111.75,261.86 110.25,260.49 110.38,259.20Z" fill="#cdcdcd" stroke="#666" stroke-width="0.5"/><path d="M112.06,259.05 C112.17,257.98 114.09,256.50 115.19,255.30 C116.28,254.10 117.69,252.58 118.62,251.86 C119.56,251.14 119.98,251.09 120.81,250.99 C121.65,250.88 122.85,250.99 123.62,251.24 C124.40,251.49 125.01,251.76 125.44,252.49 C125.86,253.22 126.06,254.47 126.19,255.61 C126.31,256.76 126.30,258.36 126.19,259.36 C126.07,260.36 126.50,261.20 125.50,261.61 C124.50,262.03 122.01,261.84 120.19,261.86 C118.36,261.88 115.92,262.21 114.56,261.74 C113.21,261.27 111.96,260.12 112.06,259.05Z" fill="#b5b5b5" stroke="#666" stroke-width="0.5"/><path d="M113.75,258.90 C113.83,258.04 115.38,256.86 116.25,255.90 C117.12,254.94 118.25,253.73 119.00,253.15 C119.75,252.57 120.08,252.53 120.75,252.45 C121.42,252.37 122.38,252.45 123.00,252.65 C123.62,252.85 124.11,253.07 124.45,253.65 C124.79,254.23 124.95,255.23 125.05,256.15 C125.15,257.07 125.14,258.35 125.05,259.15 C124.96,259.95 125.30,260.62 124.50,260.95 C123.70,261.28 121.71,261.13 120.25,261.15 C118.79,261.17 116.83,261.43 115.75,261.05 C114.67,260.68 113.67,259.76 113.75,258.90Z" fill="#a0a0a0" stroke="#666" stroke-width="0.5"/><path d="M115.44,258.75 C115.50,258.11 116.66,257.22 117.31,256.50 C117.97,255.78 118.81,254.87 119.38,254.44 C119.94,254.01 120.19,253.97 120.69,253.91 C121.19,253.85 121.91,253.91 122.38,254.06 C122.84,254.21 123.21,254.38 123.46,254.81 C123.72,255.25 123.84,256.00 123.91,256.69 C123.99,257.38 123.98,258.34 123.91,258.94 C123.84,259.54 124.10,260.04 123.50,260.29 C122.90,260.54 121.41,260.43 120.31,260.44 C119.22,260.45 117.75,260.64 116.94,260.36 C116.12,260.08 115.38,259.39 115.44,258.75Z" fill="#b0b0b0" stroke="#666" stroke-width="0.5"/>
<ellipse cx="120.6" cy="258.8" rx="2.1" ry="2.0" fill="#f2f2f2"/>
<path d="M106,263.5 C114,266 124,269 133,272" stroke="#777" stroke-width="0.55" fill="none"/>
<path d="M106,265.5 C114,269 124,272 133,275" stroke="#777" stroke-width="0.55" fill="none"/>
<path d="M107,268 C115,272 124,275 133,278" stroke="#888" stroke-width="0.55" fill="none"/>
<ellipse cx="146.3" cy="264" rx="11.7" ry="12" fill="#f4f4f4" stroke="#777" stroke-width="0.5"/>
<ellipse cx="146" cy="264.2" rx="10.6" ry="10.8" fill="#e2e2e2" stroke="#666" stroke-width="0.5"/>
<ellipse cx="145.5" cy="264.4" rx="9.6" ry="9.5" fill="#c4c4c4" stroke="#555" stroke-width="0.5"/>
<ellipse cx="144.8" cy="264.8" rx="8.6" ry="8.0" fill="#2a2a2a" stroke="#222" stroke-width="0.5"/>
<ellipse cx="144.6" cy="264.7" rx="6.6" ry="6.0" fill="#8a8a8a" stroke="#333" stroke-width="0.5"/>
<ellipse cx="144.4" cy="264.5" rx="4.6" ry="4.0" fill="#9c9c9c" stroke="#555" stroke-width="0.5"/>
<ellipse cx="144.4" cy="264.3" rx="2.6" ry="2.2" fill="#c4c4c4" stroke="#888" stroke-width="0.5"/>
<ellipse cx="144.4" cy="264.1" rx="1.2" ry="1.0" fill="#f0f0f0"/>
<rect x="105.0" y="240.6" width="25.0" height="23.8" stroke="#222" stroke-width="1.0" fill="none"/>
<rect x="132.5" y="248.8" width="26.7" height="32.2" stroke="#333" stroke-width="1.0" fill="none"/>
<line x1="119.5" y1="261" x2="104.95317741214622" y2="328.5121766256804" stroke="#222" stroke-width="1.4"/>
<polygon points="103.90,333.40 102.42,327.45 107.70,328.59" fill="#222"/>
<line x1="158.7" y1="281" x2="188.7601720220371" y2="329.3536712036438" stroke="#222" stroke-width="1.4"/>
<polygon points="191.40,333.60 186.20,330.35 190.79,327.50" fill="#222"/>
<path d="M75.5,380 C75.5,408 113.5,408 114.0,378" stroke="#777" stroke-width="0.5" fill="none"/>
<path d="M77.0,380 C77.0,404 112.0,404 112.5,378" stroke="#666" stroke-width="0.5" fill="none"/>
<path d="M78.5,380 C78.5,400 110.5,400 111.0,378" stroke="#666" stroke-width="0.5" fill="none"/>
<path d="M80.0,380 C80.0,396 109.0,396 109.5,378" stroke="#555" stroke-width="0.5" fill="none"/>
<path d="M81.5,380 C81.5,392 107.5,392 108.0,378" stroke="#555" stroke-width="0.5" fill="none"/>
<path d="M78.20,343.80 C79.92,343.23 81.30,343.67 82.70,344.20 C84.10,344.73 85.42,344.82 86.60,347.00 C87.78,349.18 88.95,353.45 89.80,357.30 C90.65,361.15 91.28,366.25 91.70,370.10 C92.12,373.95 92.58,377.67 92.30,380.40 C92.02,383.13 91.72,385.20 90.00,386.50 C88.28,387.80 84.67,388.20 82.00,388.20 C79.33,388.20 75.60,387.58 74.00,386.50 C72.40,385.42 72.88,384.43 72.40,381.70 C71.92,378.97 71.35,374.17 71.10,370.10 C70.85,366.03 70.68,361.05 70.90,357.30 C71.12,353.55 71.18,349.85 72.40,347.60 C73.62,345.35 76.48,344.37 78.20,343.80Z" fill="#f4f4f4" stroke="#444" stroke-width="0.45"/><path d="M78.58,346.37 C80.12,345.86 81.35,346.25 82.60,346.73 C83.86,347.21 85.03,347.28 86.09,349.23 C87.15,351.18 88.19,355.00 88.95,358.44 C89.71,361.88 90.28,366.44 90.65,369.88 C91.02,373.32 91.44,376.64 91.18,379.08 C90.93,381.53 90.66,383.37 89.13,384.53 C87.59,385.70 84.36,386.05 81.98,386.05 C79.60,386.05 76.26,385.50 74.83,384.53 C73.40,383.57 73.83,382.69 73.40,380.24 C72.97,377.80 72.46,373.51 72.24,369.88 C72.01,366.24 71.86,361.79 72.06,358.44 C72.25,355.09 72.31,351.78 73.40,349.77 C74.49,347.76 77.05,346.88 78.58,346.37Z" fill="#e2e2e2" stroke="#444" stroke-width="0.45"/><path d="M78.97,348.94 C80.32,348.50 81.41,348.84 82.51,349.26 C83.61,349.68 84.65,349.74 85.58,351.46 C86.51,353.18 87.43,356.54 88.10,359.57 C88.77,362.61 89.27,366.62 89.60,369.65 C89.92,372.69 90.29,375.61 90.07,377.76 C89.85,379.92 89.61,381.55 88.26,382.57 C86.91,383.59 84.06,383.91 81.96,383.91 C79.86,383.91 76.92,383.42 75.66,382.57 C74.40,381.72 74.78,380.94 74.40,378.79 C74.02,376.64 73.57,372.86 73.37,369.65 C73.18,366.45 73.05,362.53 73.22,359.57 C73.39,356.62 73.44,353.71 74.40,351.94 C75.36,350.16 77.61,349.39 78.97,348.94Z" fill="#cacaca" stroke="#444" stroke-width="0.45"/><path d="M79.35,351.51 C80.52,351.13 81.46,351.42 82.41,351.79 C83.37,352.15 84.26,352.21 85.07,353.69 C85.88,355.18 86.67,358.09 87.25,360.71 C87.83,363.33 88.26,366.81 88.54,369.43 C88.83,372.05 89.15,374.59 88.95,376.45 C88.76,378.31 88.56,379.72 87.39,380.60 C86.22,381.49 83.75,381.76 81.94,381.76 C80.12,381.76 77.58,381.34 76.49,380.60 C75.40,379.87 75.73,379.20 75.40,377.33 C75.07,375.47 74.68,372.20 74.51,369.43 C74.34,366.66 74.23,363.27 74.37,360.71 C74.52,358.16 74.57,355.64 75.40,354.10 C76.23,352.57 78.18,351.90 79.35,351.51Z" fill="#acacac" stroke="#444" stroke-width="0.45"/><path d="M79.73,354.09 C80.72,353.76 81.51,354.01 82.32,354.31 C83.12,354.62 83.88,354.67 84.56,355.93 C85.24,357.18 85.91,359.63 86.40,361.85 C86.89,364.06 87.25,366.99 87.49,369.21 C87.73,371.42 88.00,373.56 87.84,375.13 C87.67,376.70 87.50,377.89 86.52,378.64 C85.53,379.38 83.45,379.62 81.91,379.62 C80.38,379.62 78.23,379.26 77.31,378.64 C76.39,378.01 76.67,377.45 76.39,375.88 C76.12,374.31 75.79,371.55 75.65,369.21 C75.50,366.87 75.41,364.00 75.53,361.85 C75.66,359.69 75.70,357.56 76.39,356.27 C77.09,354.98 78.74,354.41 79.73,354.09Z" fill="#909090" stroke="#444" stroke-width="0.45"/><path d="M80.11,356.66 C80.92,356.39 81.57,356.59 82.22,356.84 C82.88,357.09 83.50,357.13 84.05,358.16 C84.60,359.18 85.15,361.18 85.55,362.98 C85.95,364.79 86.25,367.18 86.44,368.98 C86.64,370.79 86.85,372.53 86.72,373.81 C86.59,375.09 86.45,376.06 85.64,376.67 C84.84,377.28 83.14,377.47 81.89,377.47 C80.64,377.47 78.89,377.18 78.14,376.67 C77.39,376.16 77.62,375.70 77.39,374.42 C77.17,373.14 76.90,370.89 76.78,368.98 C76.67,367.08 76.59,364.74 76.69,362.98 C76.79,361.23 76.82,359.49 77.39,358.44 C77.96,357.38 79.31,356.92 80.11,356.66Z" fill="#777" stroke="#444" stroke-width="0.45"/><path d="M80.50,359.23 C81.12,359.02 81.62,359.18 82.13,359.37 C82.63,359.57 83.11,359.60 83.54,360.39 C83.97,361.18 84.39,362.73 84.70,364.12 C85.01,365.52 85.24,367.37 85.39,368.76 C85.54,370.16 85.71,371.50 85.61,372.50 C85.50,373.49 85.39,374.24 84.77,374.71 C84.15,375.18 82.84,375.32 81.87,375.32 C80.91,375.32 79.55,375.10 78.97,374.71 C78.39,374.31 78.57,373.96 78.39,372.97 C78.22,371.98 78.01,370.24 77.92,368.76 C77.83,367.29 77.77,365.48 77.85,364.12 C77.93,362.76 77.95,361.42 78.39,360.61 C78.83,359.79 79.87,359.43 80.50,359.23Z" fill="#606060" stroke="#444" stroke-width="0.45"/><path d="M80.88,361.80 C81.32,361.65 81.67,361.76 82.03,361.90 C82.39,362.04 82.73,362.06 83.03,362.62 C83.33,363.18 83.63,364.27 83.85,365.26 C84.07,366.24 84.23,367.55 84.34,368.54 C84.44,369.52 84.56,370.48 84.49,371.18 C84.42,371.88 84.34,372.41 83.90,372.74 C83.46,373.07 82.53,373.18 81.85,373.18 C81.17,373.18 80.21,373.02 79.80,372.74 C79.39,372.46 79.52,372.21 79.39,371.51 C79.27,370.81 79.12,369.58 79.06,368.54 C78.99,367.50 78.95,366.22 79.01,365.26 C79.06,364.30 79.08,363.35 79.39,362.77 C79.70,362.20 80.44,361.94 80.88,361.80Z" fill="#666" stroke="#444" stroke-width="0.45"/>
<ellipse cx="82.3" cy="368" rx="1.2" ry="10" fill="#d8d8d8"/>
<ellipse cx="83" cy="378" rx="1.5" ry="1.5" fill="#f4f4f4"/>
<path d="M114.70,342.00 C116.93,341.33 117.70,341.48 118.70,342.70 C119.70,343.92 120.60,345.97 120.70,349.30 C120.80,352.63 120.08,358.25 119.30,362.70 C118.52,367.15 117.43,372.23 116.00,376.00 C114.57,379.77 113.37,383.52 110.70,385.30 C108.03,387.08 102.68,386.92 100.00,386.70 C97.32,386.48 95.57,387.33 94.60,384.00 C93.63,380.67 93.75,371.15 94.20,366.70 C94.65,362.25 95.45,360.63 97.30,357.30 C99.15,353.97 102.40,349.25 105.30,346.70 C108.20,344.15 112.47,342.67 114.70,342.00Z" fill="#f2f2f2" stroke="#333" stroke-width="0.5"/><path d="M113.99,344.02 C115.98,343.42 116.67,343.56 117.56,344.64 C118.46,345.73 119.26,347.56 119.35,350.54 C119.44,353.52 118.80,358.54 118.10,362.52 C117.40,366.50 116.43,371.04 115.15,374.41 C113.87,377.77 112.80,381.12 110.41,382.72 C108.03,384.31 103.25,384.16 100.85,383.97 C98.45,383.78 96.89,384.54 96.02,381.56 C95.16,378.58 95.26,370.07 95.67,366.09 C96.07,362.12 96.78,360.67 98.44,357.69 C100.09,354.71 102.99,350.50 105.59,348.22 C108.18,345.94 111.99,344.61 113.99,344.02Z" fill="#d8d8d8" stroke="#333" stroke-width="0.5"/><path d="M113.28,346.04 C115.03,345.51 115.64,345.63 116.43,346.59 C117.21,347.55 117.92,349.16 118.00,351.79 C118.08,354.41 117.52,358.83 116.90,362.34 C116.28,365.84 115.43,369.85 114.30,372.81 C113.17,375.78 112.23,378.73 110.13,380.14 C108.03,381.54 103.81,381.41 101.70,381.24 C99.59,381.07 98.21,381.74 97.45,379.11 C96.69,376.49 96.78,368.99 97.13,365.49 C97.49,361.98 98.12,360.71 99.57,358.09 C101.03,355.46 103.59,351.75 105.87,349.74 C108.16,347.73 111.52,346.56 113.28,346.04Z" fill="#b8b8b8" stroke="#333" stroke-width="0.5"/><path d="M112.56,348.06 C114.09,347.60 114.61,347.70 115.29,348.53 C115.97,349.36 116.58,350.76 116.65,353.03 C116.72,355.30 116.23,359.13 115.70,362.16 C115.16,365.19 114.43,368.65 113.45,371.22 C112.47,373.78 111.66,376.34 109.84,377.55 C108.02,378.77 104.38,378.66 102.55,378.51 C100.72,378.36 99.53,378.94 98.87,376.67 C98.21,374.40 98.29,367.91 98.60,364.88 C98.91,361.85 99.45,360.75 100.71,358.48 C101.97,356.21 104.19,353.00 106.16,351.26 C108.14,349.52 111.04,348.51 112.56,348.06Z" fill="#969696" stroke="#333" stroke-width="0.5"/><path d="M111.85,350.07 C113.14,349.69 113.58,349.78 114.15,350.48 C114.73,351.18 115.24,352.36 115.30,354.27 C115.36,356.19 114.95,359.42 114.50,361.98 C114.05,364.54 113.42,367.46 112.60,369.62 C111.78,371.79 111.09,373.95 109.55,374.97 C108.02,376.00 104.94,375.90 103.40,375.78 C101.86,375.65 100.85,376.14 100.30,374.23 C99.74,372.31 99.81,366.84 100.06,364.28 C100.32,361.72 100.78,360.79 101.85,358.87 C102.91,356.96 104.78,354.24 106.45,352.78 C108.12,351.31 110.57,350.46 111.85,350.07Z" fill="#666" stroke="#333" stroke-width="0.5"/><path d="M111.14,352.09 C112.19,351.78 112.55,351.85 113.02,352.42 C113.48,352.99 113.91,353.95 113.95,355.52 C114.00,357.08 113.66,359.71 113.30,361.80 C112.93,363.88 112.42,366.27 111.75,368.03 C111.08,369.80 110.52,371.55 109.27,372.39 C108.02,373.23 105.51,373.15 104.25,373.05 C102.99,372.95 102.17,373.34 101.72,371.78 C101.27,370.22 101.32,365.76 101.53,363.67 C101.74,361.59 102.12,360.83 102.98,359.27 C103.85,357.70 105.38,355.49 106.73,354.30 C108.09,353.10 110.09,352.41 111.14,352.09Z" fill="#333" stroke="#333" stroke-width="0.5"/><path d="M110.43,354.11 C111.24,353.87 111.52,353.93 111.88,354.37 C112.24,354.81 112.57,355.55 112.60,356.76 C112.64,357.97 112.38,360.00 112.10,361.62 C111.81,363.23 111.42,365.07 110.90,366.44 C110.38,367.80 109.95,369.16 108.98,369.81 C108.01,370.46 106.07,370.39 105.10,370.32 C104.13,370.24 103.49,370.55 103.14,369.34 C102.79,368.13 102.83,364.68 103.00,363.07 C103.16,361.45 103.45,360.87 104.12,359.66 C104.79,358.45 105.97,356.74 107.02,355.82 C108.07,354.89 109.62,354.35 110.43,354.11Z" fill="#222" stroke="#333" stroke-width="0.5"/><path d="M109.72,356.13 C110.29,355.96 110.49,356.00 110.74,356.31 C111.00,356.62 111.23,357.15 111.25,358.00 C111.28,358.86 111.10,360.30 110.90,361.44 C110.69,362.58 110.42,363.88 110.05,364.84 C109.68,365.81 109.38,366.77 108.69,367.23 C108.01,367.68 106.64,367.64 105.95,367.59 C105.26,367.53 104.81,367.75 104.57,366.89 C104.32,366.04 104.35,363.60 104.46,362.46 C104.58,361.32 104.78,360.91 105.26,360.05 C105.73,359.20 106.56,357.99 107.31,357.34 C108.05,356.68 109.14,356.30 109.72,356.13Z" fill="#333" stroke="#333" stroke-width="0.5"/>
<path d="M111.5,349.5 C114,350 114,354 112,358 L106,368 C104,371 103,373 102.5,375 L101.5,375 C101.5,372 102,368 103.5,364 C105.5,358 108,351 111.5,349.5 Z" fill="#ececec"/>
<ellipse cx="100.8" cy="376.5" rx="1.8" ry="1.6" fill="#f2f2f2"/>
<rect x="45.0" y="330.6" width="85.0" height="85.79999999999995" stroke="#555" stroke-width="1.0" fill="none"/>
<line x1="93.9" y1="330.6" x2="93.9" y2="416.4" stroke="#333" stroke-width="1.1"/>
<line x1="45.0" y1="387.6" x2="130.0" y2="387.6" stroke="#333" stroke-width="1.1"/>
<text x="45.60" y="334.65" font-family="Liberation Sans, sans-serif" font-weight="bold" font-size="6.22" textLength="14.44" lengthAdjust="spacingAndGlyphs" fill="#000"  stroke="#000" stroke-width="0.3">37,23</text>
<text x="116.00" y="334.65" font-family="Liberation Sans, sans-serif" font-weight="bold" font-size="6.22" textLength="13.70" lengthAdjust="spacingAndGlyphs" fill="#000"  stroke="#000" stroke-width="0.3">54,19</text>
<text x="46.30" y="415.00" font-family="Liberation Sans, sans-serif" font-weight="bold" font-size="6.36" textLength="10.00" lengthAdjust="spacingAndGlyphs" fill="#000"  stroke="#000" stroke-width="0.3">4,43</text>
<text x="118.60" y="415.00" font-family="Liberation Sans, sans-serif" font-weight="bold" font-size="6.36" textLength="11.25" lengthAdjust="spacingAndGlyphs" fill="#000"  stroke="#000" stroke-width="0.3">4,15</text>
<ellipse cx="194.60" cy="365.50" rx="11.20" ry="21.50" transform="rotate(0 194.60 365.50)" fill="#f4f4f4" stroke="#444" stroke-width="0.45"/><ellipse cx="194.60" cy="365.50" rx="10.01" ry="19.22" transform="rotate(0 194.60 365.50)" fill="#e0e0e0" stroke="#444" stroke-width="0.45"/><ellipse cx="194.60" cy="365.50" rx="8.82" ry="16.93" transform="rotate(0 194.60 365.50)" fill="#c4c4c4" stroke="#444" stroke-width="0.45"/><ellipse cx="194.60" cy="365.50" rx="7.63" ry="14.65" transform="rotate(0 194.60 365.50)" fill="#a6a6a6" stroke="#444" stroke-width="0.45"/><ellipse cx="194.60" cy="365.50" rx="6.44" ry="12.36" transform="rotate(0 194.60 365.50)" fill="#808080" stroke="#444" stroke-width="0.45"/><ellipse cx="194.60" cy="365.50" rx="5.25" ry="10.08" transform="rotate(0 194.60 365.50)" fill="#555" stroke="#444" stroke-width="0.45"/><ellipse cx="194.60" cy="365.50" rx="4.06" ry="7.79" transform="rotate(0 194.60 365.50)" fill="#3a3a3a" stroke="#444" stroke-width="0.45"/><ellipse cx="194.60" cy="365.50" rx="2.87" ry="5.51" transform="rotate(0 194.60 365.50)" fill="#444" stroke="#444" stroke-width="0.45"/>
<ellipse cx="195.8" cy="368" rx="1.8" ry="8.5" fill="#eee" transform="rotate(5 195.8 368)"/>
<ellipse cx="224.30" cy="364.80" rx="11.00" ry="26.00" transform="rotate(37 224.30 364.80)" fill="#f6f6f6" stroke="#555" stroke-width="0.45"/><ellipse cx="224.30" cy="364.80" rx="9.83" ry="23.24" transform="rotate(37 224.30 364.80)" fill="#e8e8e8" stroke="#555" stroke-width="0.45"/><ellipse cx="224.30" cy="364.80" rx="8.66" ry="20.47" transform="rotate(37 224.30 364.80)" fill="#d4d4d4" stroke="#555" stroke-width="0.45"/><ellipse cx="224.30" cy="364.80" rx="7.49" ry="17.71" transform="rotate(37 224.30 364.80)" fill="#bcbcbc" stroke="#555" stroke-width="0.45"/><ellipse cx="224.30" cy="364.80" rx="6.32" ry="14.95" transform="rotate(37 224.30 364.80)" fill="#9e9e9e" stroke="#555" stroke-width="0.45"/><ellipse cx="224.30" cy="364.80" rx="5.16" ry="12.19" transform="rotate(37 224.30 364.80)" fill="#777" stroke="#555" stroke-width="0.45"/><ellipse cx="224.30" cy="364.80" rx="3.99" ry="9.43" transform="rotate(37 224.30 364.80)" fill="#4a4a4a" stroke="#555" stroke-width="0.45"/><ellipse cx="224.30" cy="364.80" rx="2.82" ry="6.66" transform="rotate(37 224.30 364.80)" fill="#444" stroke="#555" stroke-width="0.45"/>
<ellipse cx="224" cy="367" rx="1.6" ry="10" transform="rotate(35 224 367)" fill="#e6e6e6"/>
<rect x="165.0" y="330.7" width="87.80000000000001" height="85.90000000000003" stroke="#555" stroke-width="1.0" fill="none"/>
<line x1="207.5" y1="330.7" x2="207.5" y2="416.6" stroke="#333" stroke-width="1.1"/>
<line x1="165.0" y1="387.2" x2="252.8" y2="387.2" stroke="#333" stroke-width="1.1"/>
<text x="167.10" y="334.65" font-family="Liberation Sans, sans-serif" font-weight="bold" font-size="6.22" textLength="14.20" lengthAdjust="spacingAndGlyphs" fill="#000"  stroke="#000" stroke-width="0.3">53,35</text>
<text x="236.90" y="334.65" font-family="Liberation Sans, sans-serif" font-weight="bold" font-size="6.22" textLength="14.10" lengthAdjust="spacingAndGlyphs" fill="#000"  stroke="#000" stroke-width="0.3">44,96</text>
<text x="167.10" y="415.00" font-family="Liberation Sans, sans-serif" font-weight="bold" font-size="6.36" textLength="10.90" lengthAdjust="spacingAndGlyphs" fill="#000"  stroke="#000" stroke-width="0.3">0,97</text>
<text x="239.20" y="415.00" font-family="Liberation Sans, sans-serif" font-weight="bold" font-size="6.36" textLength="11.80" lengthAdjust="spacingAndGlyphs" fill="#000"  stroke="#000" stroke-width="0.3">0,72</text></svg>
</body></html>
